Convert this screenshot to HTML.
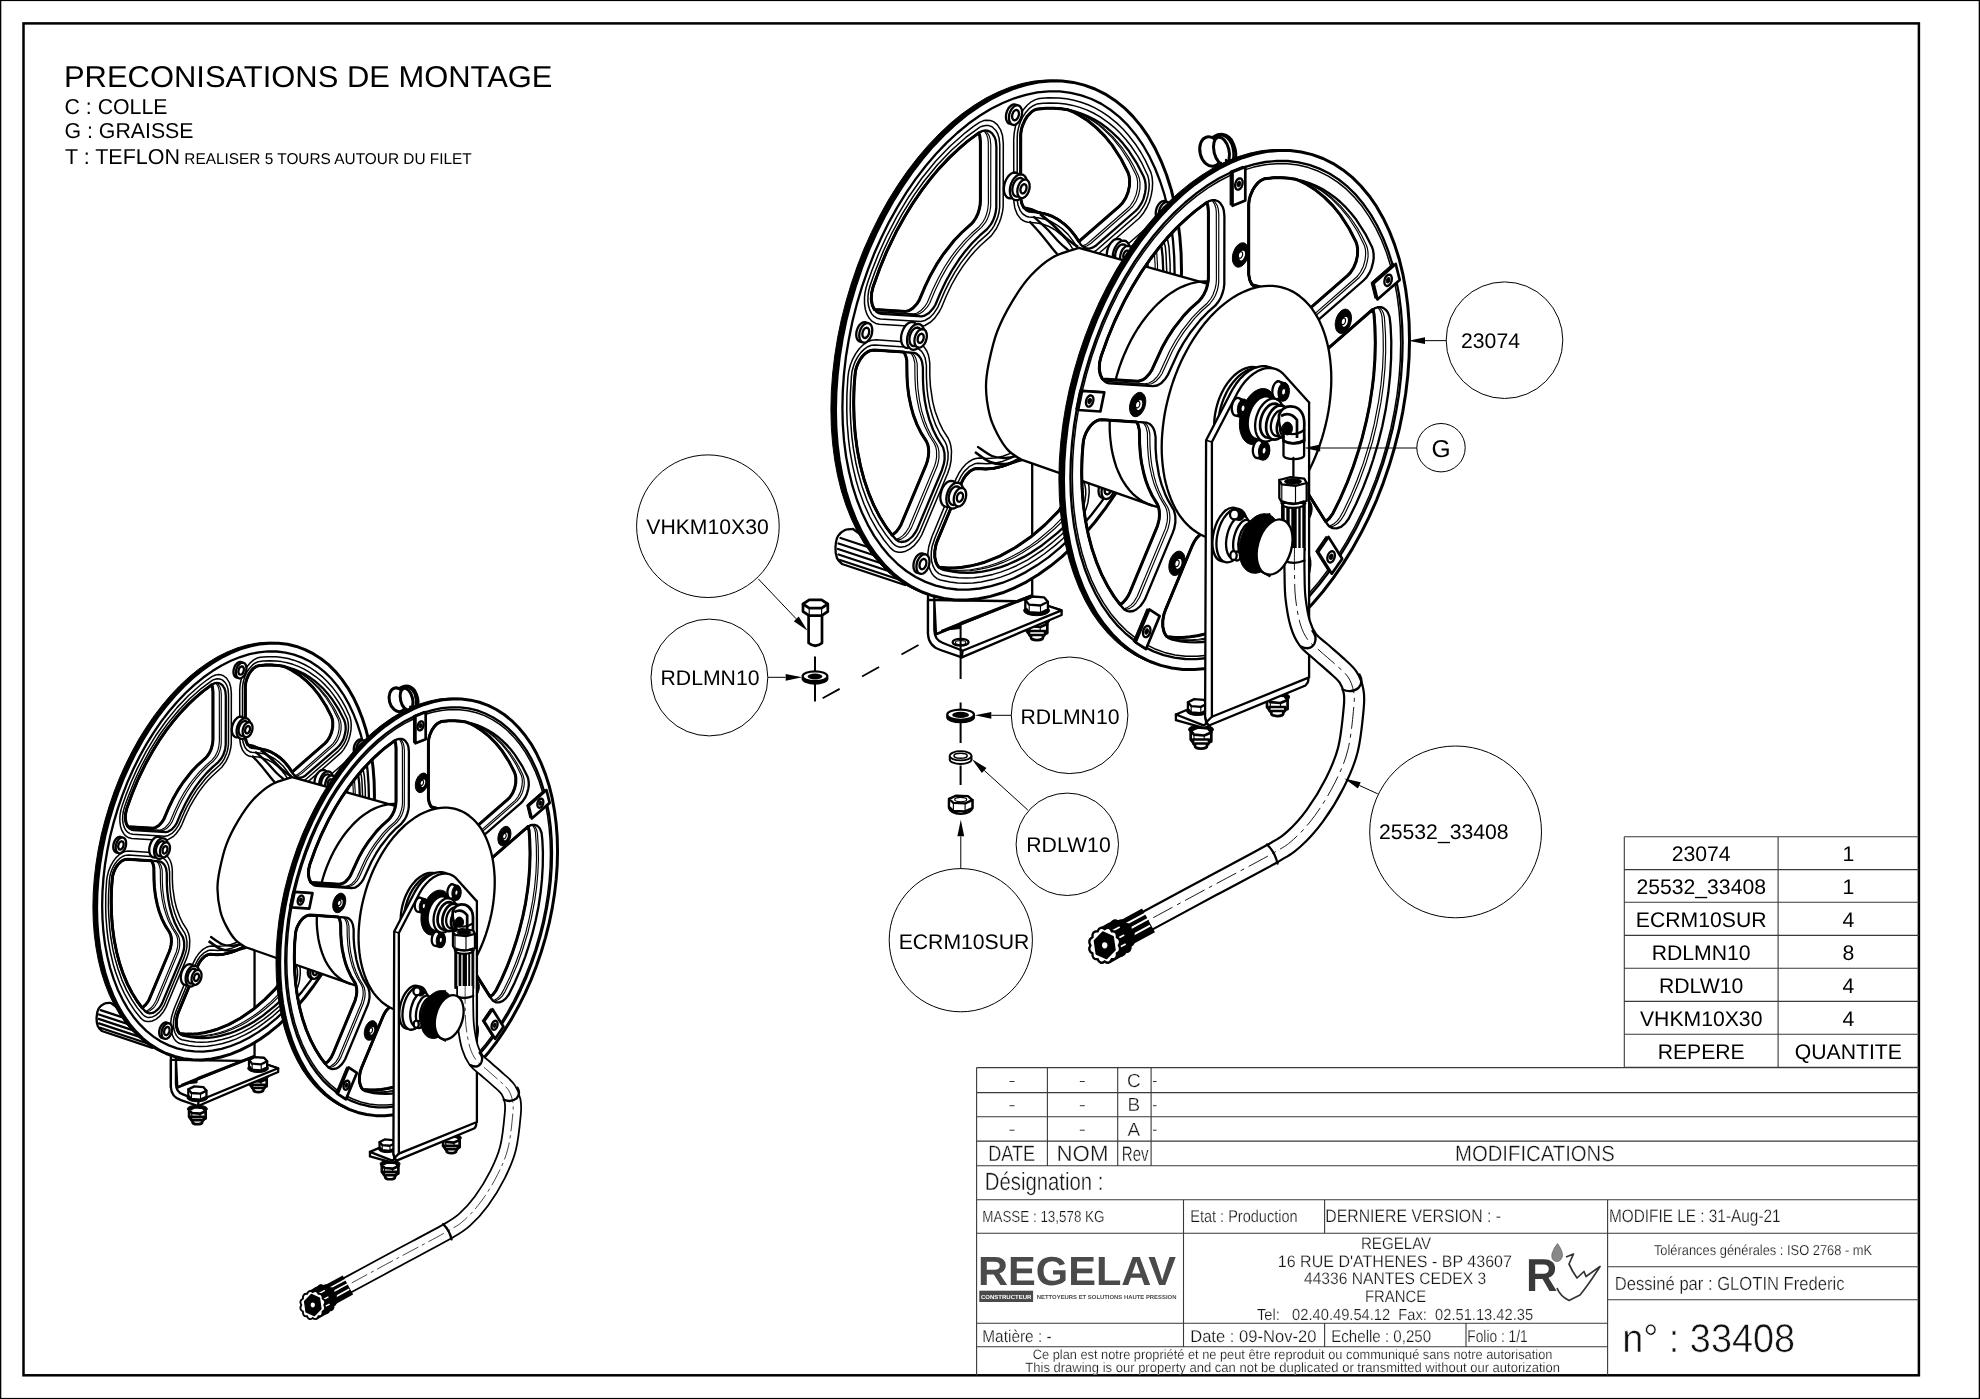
<!DOCTYPE html><html><head><meta charset="utf-8"><title>33408</title><style>
html,body{margin:0;padding:0;background:#fff}
body{width:1980px;height:1399px;overflow:hidden;font-family:"Liberation Sans",sans-serif}
svg{position:absolute;left:0;top:0;display:block;will-change:transform}
text{text-rendering:geometricPrecision}
.k{fill:none;stroke:#000;stroke-width:2.3;stroke-linejoin:round;stroke-linecap:round;vector-effect:non-scaling-stroke}
.t{fill:none;stroke:#000;stroke-width:1.15;stroke-linejoin:round;stroke-linecap:round;vector-effect:non-scaling-stroke}
.t2{fill:none;stroke:#000;stroke-width:1.5;stroke-linejoin:round;vector-effect:non-scaling-stroke}
.h{fill:none;stroke:#000;stroke-width:3;stroke-linejoin:round;vector-effect:non-scaling-stroke}
.h2{fill:none;stroke:#000;stroke-width:2.7;stroke-linejoin:round;vector-effect:non-scaling-stroke}
.w{fill:#fff}
.bk{fill:#000;stroke:#000;stroke-width:1;vector-effect:non-scaling-stroke}
.cl{fill:none;stroke:#000;stroke-width:1;stroke-dasharray:14 4 3 4;vector-effect:non-scaling-stroke}
.bal{fill:#fff;stroke:#000;stroke-width:1}
.ld{fill:none;stroke:#000;stroke-width:1}
.ar{fill:#000;stroke:none}
.bt{font-family:"Liberation Sans",sans-serif;font-size:21.2px;fill:#000;text-anchor:middle}
.tb{fill:none;stroke:#3a3a3a;stroke-width:1.1}
.tf{font-family:"Liberation Sans",sans-serif;stroke:#fff}
.nt{font-family:"Liberation Sans",sans-serif;fill:#000}
</style></head><body><svg width="1980" height="1399" viewBox="0 0 1980 1399"><rect x="0.6" y="0.4" width="1978.8" height="1398.2" fill="none" stroke="#000" stroke-width="1.4"/>
<rect x="23.5" y="23.4" width="1895.4" height="1351.9" fill="none" stroke="#000" stroke-width="2.5"/>
<defs><g id="fl"><path class="bk" fill-rule="evenodd" d="M1176.9,269.5L1176.5,252.2 1175.2,235.3 1173.1,219 1170.2,203.3 1166.5,188.2 1161.9,173.8 1156.6,160.3 1150.6,147.6 1143.9,135.9 1136.4,125.1 1128.3,115.4 1119.7,106.8 1110.4,99.4 1100.6,93.1 1090.4,88 1079.7,84.1 1068.7,81.4 1057.4,80.1 1045.8,80 1033.9,81.1 1022,83.5 1009.9,87.2 997.9,92.1 985.8,98.1 973.9,105.4 962,113.8 950.4,123.3 939.1,133.9 928.1,145.4 917.4,158 907.2,171.3 897.4,185.6 888.1,200.5 879.5,216.1 871.4,232.4 863.9,249.1 857.2,266.3 851.2,283.9 845.9,301.7 841.3,319.7 837.6,337.8 834.7,356 832.6,374 831.3,391.9 830.9,409.5 831.3,426.7 832.6,443.6 834.7,459.9 837.6,475.7 841.3,490.7 845.9,505.1 851.2,518.6 857.2,531.3 863.9,543 871.4,553.8 879.5,563.5 888.1,572.1 897.4,579.6 907.2,585.9 917.4,591 928.1,594.8 939.1,597.5 950.4,598.9 962,599 973.9,597.8 985.8,595.4 997.9,591.8 1009.9,586.9 1022,580.8 1033.9,573.5 1045.8,565.1 1057.4,555.6 1068.7,545 1079.7,533.5 1090.4,521 1100.6,507.6 1110.4,493.4 1119.7,478.4 1128.3,462.8 1136.4,446.5 1143.9,429.8 1150.6,412.6 1156.6,395 1161.9,377.2 1166.5,359.2 1170.2,341.1 1173.1,323 1175.2,304.9 1176.5,287.1ZM1181.5,270.5L1181.1,253.2 1179.8,236.3 1177.7,220 1174.8,204.3 1171.1,189.2 1166.5,174.8 1161.2,161.3 1155.2,148.6 1148.5,136.9 1141,126.1 1132.9,116.4 1124.3,107.8 1115,100.4 1105.2,94.1 1095,89 1084.3,85.1 1073.3,82.4 1062,81.1 1050.4,81 1038.5,82.1 1026.6,84.5 1014.5,88.2 1002.5,93.1 990.4,99.1 978.5,106.4 966.6,114.8 955,124.3 943.7,134.9 932.7,146.4 922,159 911.8,172.3 902,186.6 892.7,201.5 884.1,217.1 876,233.4 868.5,250.1 861.8,267.3 855.8,284.9 850.5,302.7 845.9,320.7 842.2,338.8 839.3,357 837.2,375 835.9,392.9 835.5,410.5 835.9,427.7 837.2,444.6 839.3,460.9 842.2,476.7 845.9,491.7 850.5,506.1 855.8,519.6 861.8,532.3 868.5,544 876,554.8 884.1,564.5 892.7,573.1 902,580.6 911.8,586.9 922,592 932.7,595.8 943.7,598.5 955,599.9 966.6,600 978.5,598.8 990.4,596.4 1002.5,592.8 1014.5,587.9 1026.6,581.8 1038.5,574.5 1050.4,566.1 1062,556.6 1073.3,546 1084.3,534.5 1095,522 1105.2,508.6 1115,494.4 1124.3,479.4 1132.9,463.8 1141,447.5 1148.5,430.8 1155.2,413.6 1161.2,396 1166.5,378.2 1171.1,360.2 1174.8,342.1 1177.7,324 1179.8,305.9 1181.1,288.1Z"/><path class="h w" fill-rule="evenodd" d="M1181.5,270.5L1181.1,253.2 1179.8,236.3 1177.7,220 1174.8,204.3 1171.1,189.2 1166.5,174.8 1161.2,161.3 1155.2,148.6 1148.5,136.9 1141,126.1 1132.9,116.4 1124.3,107.8 1115,100.4 1105.2,94.1 1095,89 1084.3,85.1 1073.3,82.4 1062,81.1 1050.4,81 1038.5,82.1 1026.6,84.5 1014.5,88.2 1002.5,93.1 990.4,99.1 978.5,106.4 966.6,114.8 955,124.3 943.7,134.9 932.7,146.4 922,159 911.8,172.3 902,186.6 892.7,201.5 884.1,217.1 876,233.4 868.5,250.1 861.8,267.3 855.8,284.9 850.5,302.7 845.9,320.7 842.2,338.8 839.3,357 837.2,375 835.9,392.9 835.5,410.5 835.9,427.7 837.2,444.6 839.3,460.9 842.2,476.7 845.9,491.7 850.5,506.1 855.8,519.6 861.8,532.3 868.5,544 876,554.8 884.1,564.5 892.7,573.1 902,580.6 911.8,586.9 922,592 932.7,595.8 943.7,598.5 955,599.9 966.6,600 978.5,598.8 990.4,596.4 1002.5,592.8 1014.5,587.9 1026.6,581.8 1038.5,574.5 1050.4,566.1 1062,556.6 1073.3,546 1084.3,534.5 1095,522 1105.2,508.6 1115,494.4 1124.3,479.4 1132.9,463.8 1141,447.5 1148.5,430.8 1155.2,413.6 1161.2,396 1166.5,378.2 1171.1,360.2 1174.8,342.1 1177.7,324 1179.8,305.9 1181.1,288.1ZM874,350.1L871.1,350.4 868.2,351.5 865.4,353.4 862.7,356 860.3,359.2 858.2,363 856.5,367.1 855.4,371.4 854.1,386.2 853.7,402.8 854.1,419.1 855.3,435 857.4,450.4 860.3,465.1 864,479.2 868.5,492.6 873.7,505.1 879.7,516.7 886.3,527.3 892.2,535.2 896.4,531.6 898.8,528.4 901,524.7 925.9,465.3 927.4,461 928.3,456.6 928.7,452.2 928.5,448.1 927.7,444.3 926.3,441.1 921.2,433.1 916.9,424.4 913.4,415.1 911.2,407.2 908.9,396.4 907.5,385.2 907,376.1 906.8,360.5 906,356.7 904.7,353.5 903.9,352.1ZM1041,442.2L1031.4,450.4 1025.3,455 1018.9,459.1 1010.5,463.4 1002.1,466.4 993.8,468.3 985.7,469 977.1,468.4 974.2,468.9 969.8,471.3 965.8,475.4 963.4,478.9 961.5,482.8 937.5,540.3 936,544.5 934.8,551 934.8,557.2 936.1,562.6 937.6,565.5 939,567.2 947.4,567.9 954.7,567.9 962.1,567.3 969.6,566.1 977.1,564.4 984.7,562.2 999.9,556.1 1015,547.8 1030.3,537.3 1044.8,525 1059.1,510.6 1062.4,505.3 1064.2,501.3 1065.4,497 1066.3,490.5 1066.2,486.4 1065.5,482.6 1063.5,477.9ZM1144.7,240L1102.8,276.6 1100.3,279.7 1098.1,283.3 1096.3,287.4 1095,291.7 1094.1,298.2 1094,311.8 1093.5,321.4 1092.1,333.6 1090.4,343.4 1087.6,355.9 1084,368.4 1079.8,380.3 1073.9,394.5 1072.9,398.9 1072.3,405.5 1073.1,411.4 1074.3,414.8 1097.6,451.9 1101.2,448.9 1104.8,444.1 1112.1,429.3 1119.2,412.9 1125.2,397.1 1130.7,380.5 1134.1,368.7 1138.3,351.7 1141.7,335.1 1144.3,318.1 1145.7,306.2 1146.9,289.8 1147.3,273.2 1146.9,256.9 1146,244.5 1145.1,240.9ZM1067.9,109.8L1060.8,108.7 1053.3,108.2 1045.9,108.2 1036.6,109.2 1033.7,110.4 1030.9,112.4 1027.1,116.6 1024.9,120.1 1022.3,126.2 1021.2,130.4 1020.7,134.7 1020.7,197.9 1021.8,203.6 1023.8,207.7 1031.1,209.5 1038.1,212.4 1047.1,214.4 1052.6,216.5 1057.7,219.3 1064.4,224.1 1069.1,228.5 1074.6,235.1 1078.9,241.5 1119.5,206.1 1122.2,203.3 1125.6,198.2 1128.1,192.1 1129.5,185.7 1129.6,179.4 1129,175.6 1127.9,172.2 1121.1,159 1112.3,145.4 1104.8,136.1 1096.3,127.6 1087.6,120.5 1078.4,114.7 1072.3,111.5ZM978.8,132.9L967.4,141.4 959.8,147.8 949.1,157.9 939,168.6 932,176.9 922.3,189.4 913.1,202.8 904.7,216.5 896.2,231.8 886.5,251.9 879.7,268.5 873.1,286.7 871.6,293.2 871.3,299.5 872.3,305.1 874.4,309.5 905.7,311.4 908.7,310.7 913,308.1 917,303.7 919.3,300.1 925,286.6 930.5,275.2 936.6,264.4 943.1,254.5 954.1,240.5 961.8,232.5 971.1,224.2 973.7,221.2 976,217.7 977.9,213.7 979.2,209.4 980.1,205.1 980.4,200.8 980.4,141.7 979.8,135.9Z"/><path class="k" d="M1174.6,273.3L1174.2,256.7 1173,240.5 1171,224.8 1168.1,209.7 1164.6,195.2 1160.2,181.5 1155.1,168.5 1149.3,156.3 1142.9,145 1135.7,134.7 1128,125.4 1119.6,117.1 1110.7,110 1101.4,103.9 1091.5,99 1081.3,95.3 1070.7,92.8 1059.8,91.4 1048.7,91.3 1037.3,92.4 1025.9,94.8 1014.3,98.3 1002.7,103 991.1,108.8 979.7,115.8 968.3,123.8 957.2,133 946.3,143.1 935.7,154.2 925.5,166.2 915.6,179.1 906.3,192.7 897.4,207.1 889,222.1 881.3,237.7 874.1,253.8 867.7,270.3 861.9,287.1 856.8,304.2 852.4,321.5 848.9,338.9 846,356.3 844,373.6 842.8,390.8 842.4,407.7 842.8,424.2 844,440.4 846,456.1 848.9,471.2 852.4,485.7 856.8,499.5 861.9,512.5 867.7,524.6 874.1,535.9 881.3,546.2 889,555.5 897.4,563.8 906.3,571 915.6,577 925.5,581.9 935.7,585.6 946.3,588.2 957.2,589.5 968.3,589.6 979.7,588.5 991.1,586.2 1002.7,582.7 1014.3,578 1025.9,572.1 1037.3,565.1 1048.7,557.1 1059.8,547.9 1070.7,537.8 1081.3,526.7 1091.5,514.7 1101.4,501.9 1110.7,488.2 1119.6,473.8 1128,458.8 1135.7,443.3 1142.9,427.2 1149.3,410.7 1155.1,393.8 1160.2,376.7 1164.6,359.4 1168.1,342 1171,324.6 1173,307.3 1174.2,290.2Z"/><path class="t2" d="M851.4,376.6L852,371.5 853.4,366.2 855.4,361.1 858,356.4 861,352.4 864.3,349.1 867.8,346.7 871.4,345.3 875,344.9 915.7,347.7 918.8,349.1 921.6,351.4 923.7,354.7 925.2,358.3 926.4,365.5 926.4,376.7 927,388.1 927.9,396.3 929.8,406.7 932.6,416.5 936,425.7 940.1,434 945.3,442.2 946.8,445.8 948.1,453 948,458.8 947.1,464.2 944.8,471.7 919.7,531.7 917.1,536.2 913.8,540.5 909,544.6 905.1,546.5 900.2,547.2 898.2,546.8 895.5,545.6 892.7,543.2 886,534.9 879,524.4 872.6,512.8 867,500.3 862.2,486.9 858.3,473.3 855.9,463 853.3,448.2 851.9,437.1 850.7,421.5 850.2,409.8 850.4,393.5Z"/><path class="t2" d="M941.8,574.9L938.9,573.6 936.2,571.3 934.8,569.5 933,565.9 931.7,561.5 931.2,556.6 931.3,551.9 932.1,546.6 934.7,538.5 958.7,481 961.2,475.9 964.1,471.6 969.2,466.7 974.6,463.8 977.8,463.2 986.6,463.8 994.4,463.2 1002.4,461.4 1010.6,458.3 1016.6,455.3 1024.5,450.5 1030.5,446 1039.2,438.4 1044.3,435.6 1047.8,434.8 1049.9,434.9 1052.9,435.7 1055.8,437.6 1058.3,440.7 1082.3,478.7 1084.9,484.8 1085.6,489 1085.8,494.1 1084.6,502.6 1083.2,507.3 1081.1,512.3 1076.6,519.2 1069.2,527.1 1061.6,534.5 1050.9,543.7 1043.4,549.5 1027.7,559.8 1016.5,565.7 1008.7,569.1 1000.6,572.1 992.8,574.4 981.7,576.8 974,577.7 966.1,578 958.6,577.7 951.3,576.9Z"/><path class="t2" d="M1072.3,420.3L1070.4,416.3 1069.3,411.8 1068.9,406.7 1069.5,399.2 1071.7,391.1 1076.9,378.7 1081,367 1083.7,358.1 1086.5,346.2 1088.7,334.1 1090,322.1 1090.8,296.4 1092.4,288.8 1094.5,283.1 1098.2,276.6 1101.6,272.4 1143.5,235.7 1147.1,233.6 1150.6,232.5 1154.1,232.5 1157.3,233.5 1159,234.6 1161.3,236.9 1163.6,240.7 1165.3,246.8 1166,254 1166.7,270.6 1166.6,287.4 1165.6,304.6 1163.8,322 1162,334.2 1158.9,351.1 1156.1,363.4 1151.7,380.1 1148,392.1 1142.3,408.5 1137.8,420.1 1131,435.8 1123.2,451.6 1118.4,457.9 1115.1,460.9 1111.5,463 1108,464.1 1103.2,463.8 1099.9,462.2 1096.4,458.5Z"/><path class="t2" d="M1017.2,138.2L1017.5,132.7 1018.6,127.4 1020.3,122.3 1022.5,117.4 1025.3,113.1 1029.7,108.1 1033.2,105.7 1036.7,104.1 1043,103.3 1050.9,102.9 1058.3,103.2 1065.6,104 1072.8,105.4 1079.8,107.4 1086.7,109.9 1093.4,113 1099.8,116.7 1108.7,122.9 1114.7,127.8 1120.3,133.3 1125.9,139.5 1131,146 1137.8,156.2 1142.1,163.7 1147.8,175.7 1148.8,180.2 1149.2,184.6 1148.9,189.8 1147.9,195.2 1146.2,200.9 1144,205.7 1140,211.7 1136.8,215.1 1096.2,250.5 1092.6,252.6 1088.9,253.7 1085.4,253.7 1082.2,252.5 1080.4,251.4 1078.1,248.9 1073.2,241.1 1068,234.4 1062.2,228.9 1057.5,225.3 1050.8,221.5 1043.7,218.9 1038,217.7 1028.9,217 1026.9,216.6 1022.8,214 1020.2,210.6 1018,204.9 1017.2,199.6Z"/><path class="t2" d="M880.4,319L877,318.2 874.1,316.4 871.6,313.7 869.8,310.1 868.5,305.8 867.9,301 868,295.9 868.7,290.6 870.1,285.5 874.7,272.5 883.6,250.5 891.4,234 902.1,214.2 914,195.1 924,181.2 937.5,164.8 951.4,150.3 966.1,137.2 979.9,127.1 982.1,126.2 985.6,125.4 988.9,125.6 992,126.8 995.7,130.2 997.7,133.6 999.1,138.2 999.8,145 999.7,207.1 999,212.5 997.7,217.4 994.3,225.4 991.8,229.3 988.6,233.1 979,241.6 971.6,249.3 961.1,262.6 954.9,272.2 949,282.6 944.9,290.9 937.6,307.7 933.5,313.8 929.9,317.5 924.8,320.5 920.8,321.5Z"/><path class="t2" d="M847.9,377.4L848.7,371.6 850.3,365.2 852.7,359.1 855.7,353.6 859.2,348.7 863.2,344.8 867.3,341.9 871.6,340.2 876.1,339.8 917.3,342.7 921,344.3 924.2,347.1 926.8,351 928.4,355.1 929.2,358.6 929.8,363.5 929.8,375.2 930.4,386.1 932.7,401.6 935.1,411.2 939.1,422.1 943,430.1 948.3,438.5 950,442.5 950.9,446.1 951.5,451 951.1,460.5 949.8,467 947.7,473.3 921.9,534.6 918.8,540 913.8,545.9 909.7,549.2 904.8,551.6 901.3,552.3 898.6,552.3 895.4,551.5 893.6,550.6 890.1,547.6 883.6,539.5 876.4,528.7 869.9,517 864.1,504.2 859.1,490.6 856.1,480.5 852.6,465.6 849.9,450.6 848.5,439.1 847.2,423.3 846.8,411.2 846.9,394.6Z"/><path class="t2" d="M940.3,580L937,578.6 933.7,575.9 931.9,573.5 929.8,569.1 928.4,563.9 927.8,559 927.9,552.9 928.8,546.5 931.9,536.7 955.9,479.2 959,473 962.5,467.9 965.8,464.3 968.5,462 972.1,459.8 974.9,458.7 978.5,458.1 987.5,458.6 995,458 1002.8,456.2 1010.5,453.4 1018.1,449.5 1023.8,445.8 1029.5,441.6 1038.5,433.8 1044.2,430.6 1048.5,429.6 1051.2,429.7 1054.5,430.7 1056.9,432 1059.5,434.5 1061.1,436.6 1085.1,474.6 1087.1,478.7 1088.2,482 1089,486.7 1089.2,492.7 1088,502.2 1086.2,508.5 1084.7,512.5 1082.2,517.3 1078.8,522.3 1070.6,531.1 1062.8,538.7 1055.2,545.4 1044.2,554 1036,559.7 1028,564.6 1020.1,568.9 1008.8,574.1 1000.7,577.1 992.4,579.6 981.1,581.9 973.2,582.9 965.2,583.2 957.5,582.9 950,582.1Z"/><path class="t2" d="M1069.5,424.4L1067.2,419.5 1065.9,414 1065.4,408 1066.1,399.4 1068.7,389.8 1074,377.1 1077.9,366.1 1082.6,348.7 1084.9,337.1 1086.4,325.6 1087.1,314.3 1087.5,296.7 1089.2,288.1 1091.9,280.9 1096,273.5 1100.4,268.2 1142.6,231.2 1146.8,228.7 1151.1,227.4 1155.2,227.3 1159,228.5 1162.9,231.4 1165.6,235 1167.6,239.6 1169,247 1170.1,263.9 1170.2,281 1169.5,298.5 1167.8,316.3 1165.5,333.4 1163.2,346 1159.5,363.1 1156.3,375.7 1151.3,392.5 1147.1,404.9 1140.6,421.8 1133.7,437.8 1125.6,454.2 1123.4,457.6 1119.7,462.1 1115.7,465.6 1111.5,468 1107.3,469.3 1103.2,469.3 1100,468.3 1098.2,467.3 1094.6,464Z"/><path class="t2" d="M1013.7,139.6L1014.2,132.9 1015.4,126.6 1017.5,120.4 1020.2,114.7 1023.5,109.5 1027.2,105.2 1031.2,101.8 1035.4,99.6 1039.3,98.5 1048.1,97.8 1059,98 1066.5,98.8 1073.9,100.2 1081.1,102.2 1088.1,104.8 1094.9,107.9 1101.8,111.8 1108.2,116.1 1116.9,123.1 1123,129 1128.5,135.2 1135.9,144.8 1140.9,152.5 1145.3,160.4 1151,172.6 1152.1,177.1 1152.6,182.9 1152.3,189.1 1151.2,195.4 1149.4,201.7 1146.8,207.5 1143.1,213.6 1139.4,218 1097.1,255 1092.8,257.5 1088.5,258.8 1084.3,258.8 1080.4,257.5 1078.1,256 1075.5,253.3 1070.5,245.3 1065.5,238.9 1061.3,234.8 1055.4,230.1 1049,226.5 1042.2,224 1036.8,222.9 1027.8,222.2 1025.2,221.6 1022.2,220 1020.5,218.6 1017.3,214.4 1014.8,207.9 1013.8,201.2Z"/><path class="t2" d="M879.3,324.2L875.7,323.4 872.2,321.4 869.3,318.3 866.9,314.2 865.3,309.2 864.5,303.6 864.5,297.5 864.9,293.3 866,288 867.9,281.8 872,270.3 878.4,254.2 886.2,237 897.1,216.1 908.8,196.7 921.8,178.2 935.6,161.3 950,146.2 965.2,132.8 973.2,126.6 979.5,122.4 983.7,120.6 986.4,120.2 990.4,120.5 993.5,121.6 997.3,124.6 1000.6,129.8 1002.5,135.6 1003.3,143.3 1003.2,206.5 1002.5,211.9 1000.9,218.3 999.4,222.3 996.6,228.2 991.4,235.6 980.2,245.8 974.9,251.2 969.7,257.2 963.1,265.9 957.1,275.2 951.5,285 946.5,295.5 941.5,307.5 938.9,312.3 934.7,318.1 930.7,322 924.9,325.5 919.9,326.7Z"/><path class="t" d="M874,350.1L871.1,350.4 868.2,351.5 865.4,353.4 862.7,356 860.3,359.2 858.2,363 856.5,367.1 855.4,371.4 854.1,386.2 853.7,403.4 854.1,419.7 855.9,440.2 858.3,455.4 861.4,469.9 865.4,483.8 870.3,497.2 875.8,509.4 882,520.7 891.1,533.9 895.2,538.8 897,540.3 901.3,539.1 905.5,536.1 908.1,533.2 911.4,527.9 937.1,466.3 938.3,462 939,457.6 938.9,451.2 938.1,447.5 936.7,444.2 931.6,436.2 927.3,427.5 924.6,420.5 921.6,410.6 919.4,399.8 917.9,388.4 917.4,379.3 917.2,363.7 915.8,358.2 914.3,355.3 911.7,352.6Z"/><path class="t" d="M874,350.1L871.1,350.4 868.2,351.5 865.4,353.4 862.7,356 860.3,359.2 858.2,363 856.5,367.1 855.4,371.4 854.1,386.2 853.7,402.8 854.1,419.1 855.4,435.5 857.5,450.8 860.4,465.6 864.1,479.7 868.6,493 873.9,505.4 879.9,517 886.5,527.7 891.4,534.2 895.8,539.4 898.9,538.4 903.1,535.4 905.7,532.5 909,527.2 934.7,465.6 935.9,461.3 936.6,456.8 936.5,450.5 935.7,446.7 934.3,443.5 929.2,435.5 924.9,426.8 922.2,419.7 919.2,409.9 917,399.1 915.5,387.7 915,378.6 914.8,363 913.4,357.5 911.9,354.5 910.1,352.5Z"/><path class="t" d="M1047.1,440L1042.8,441.2 1039.9,443 1031.3,450.6 1023.2,456.4 1017,460.2 1010.7,463.3 1002.3,466.4 993.9,468.3 987.6,468.9 977.1,468.4 974.2,468.9 969.8,471.3 965.8,475.4 963.4,478.9 961.5,482.8 937.5,540.3 936,544.5 934.8,551 934.8,557.2 935.6,560.9 936.8,564.2 939.6,567.8 941.2,568.9 950.9,570.5 961.4,571.1 969.2,570.8 976.6,569.9 987.5,567.6 995.1,565.4 1003.1,562.4 1014.1,557.4 1021.7,553.3 1037,543.2 1044.4,537.5 1054.9,528.5 1062.3,521.3 1069.5,513.7 1071.8,510.4 1073.8,506.5 1075.3,502.3 1076.3,498 1076.7,491.6 1076.3,487.6 1075.4,484.1 1073.9,481.1 1049.9,443Z"/><path class="t" d="M1045.7,440.2L1042.8,441.2 1039.9,443 1031.3,450.6 1023.2,456.4 1017,460.2 1010.7,463.3 1002.3,466.4 993.9,468.3 987.6,468.9 977.1,468.4 974.2,468.9 969.8,471.3 965.8,475.4 963.4,478.9 961.5,482.8 937.5,540.3 936,544.5 934.8,551 934.8,557.2 935.6,560.9 936.8,564.2 939.6,567.8 941.4,568.7 952.1,570.1 962.7,570.3 970.5,569.7 981.4,567.8 988.9,565.8 996.5,563.3 1004.1,560.2 1011.7,556.6 1019.6,552.3 1030.5,545.4 1037.9,540 1052.8,527.4 1067.1,513 1070.4,507.7 1072.2,503.7 1073.4,499.5 1074.3,493 1074.2,488.9 1073.5,485.1 1071.5,480.3 1047.5,442.3Z"/><path class="t" d="M1151.2,237.6L1145.9,239.2 1143,241.3 1102.8,276.6 1100.3,279.7 1098.1,283.3 1096.3,287.4 1095,291.7 1094.1,298.2 1094,311.8 1093.5,321.4 1092.1,333.6 1090.4,343.4 1087.6,355.9 1084,368.4 1079.8,380.3 1073.9,394.5 1072.9,398.9 1072.3,405.5 1073.1,411.4 1075.1,416.2 1099.1,454.3 1101.9,457.3 1104.5,456.8 1107.4,455.5 1110.2,453.4 1112.8,450.6 1116.2,445.4 1122.7,432 1131.5,411.2 1137.7,394.3 1144.4,372.4 1148.7,354.9 1153,332.6 1155.4,315.5 1157,298.1 1157.7,281.4 1157.5,264.9 1156.4,247.7 1155.5,244.1 1154.1,241Z"/><path class="t" d="M1149.8,237.8L1145.9,239.2 1143,241.3 1102.8,276.6 1100.3,279.7 1098.1,283.3 1096.3,287.4 1095,291.7 1094.1,298.2 1094,311.8 1093.5,321.4 1092.1,333.6 1090.4,343.4 1087.6,355.9 1084,368.4 1079.8,380.3 1073.9,394.5 1072.9,398.9 1072.3,405.5 1073.1,411.4 1075.1,416.2 1099.1,454.3 1100.9,456.4 1103.6,455.6 1106.4,453.8 1109.2,451.4 1111.6,448.3 1115.3,441.6 1122.5,426.5 1129.1,410.5 1135.3,393.5 1142,371.7 1146.3,354.1 1150.6,331.9 1153,314.8 1154.6,297.9 1155.3,281.1 1155.1,264.2 1154,247 1153.1,243.3 1151.7,240.2Z"/><path class="t" d="M1071.4,110.6L1064.1,109.1 1053.6,108.2 1045.9,108.2 1038,108.9 1035.2,109.7 1032.3,111.3 1028.3,115 1025.9,118.3 1023.9,122.1 1022.3,126.2 1021.2,130.4 1020.7,134.7 1020.7,197.9 1021.3,201.9 1022.4,205.3 1024.1,208.1 1026.2,210.2 1033.6,210.8 1039.6,212.1 1050.6,215.7 1057.9,219.4 1064.4,224.1 1069.1,228.5 1074.8,235.2 1080.7,244.5 1082.8,246.7 1083.8,246.9 1086.8,246 1091.1,243.2 1129.9,209.2 1132.6,206.5 1136,201.4 1138.5,195.3 1139.9,188.9 1140,182.6 1139.4,178.8 1138.3,175.4 1133.8,166.3 1129.6,158.9 1122.5,148.2 1112.5,136.4 1103.9,128.3 1098.3,123.9 1092.2,119.8 1082.3,114.6 1075.7,111.8Z"/><path class="t" d="M1071.4,110.6L1064.1,109.1 1053.6,108.2 1045.9,108.2 1038,108.9 1035.2,109.7 1032.3,111.3 1028.3,115 1025.9,118.3 1023.9,122.1 1022.3,126.2 1021.2,130.4 1020.7,134.7 1020.7,197.9 1021.3,201.9 1022.4,205.3 1024.1,208.1 1025.4,209.5 1035.1,210.8 1048.8,215 1056.2,218.4 1062.9,222.9 1067.6,227 1072,231.8 1076,236.9 1080.7,244.5 1082,246 1085.8,244.6 1088.7,242.5 1127.5,208.5 1130.2,205.8 1133.6,200.6 1136.1,194.6 1137.5,188.1 1137.6,181.9 1137,178 1135.9,174.7 1129.1,161.4 1120.3,147.8 1112.5,138.2 1104.3,130 1098.9,125.4 1092.9,121.1 1083.2,115.4 1076.7,112.4Z"/><path class="t" d="M985.2,130.5L981.8,131.2 979,132.8 967,141.7 956.2,151.1 942.5,164.8 932.3,176.5 922.6,189 913.4,202.4 904.7,216.5 896.2,231.8 886.5,251.9 879.7,268.5 872.5,288.9 871.4,295.3 871.3,299.5 871.9,303.3 873.6,308.3 875.4,310.8 877,312.2 916.1,314.6 919.1,313.9 923.4,311.2 927.4,306.9 929.7,303.3 935.4,289.8 940.9,278.4 947,267.6 953.5,257.6 959,250.3 966.2,241.8 974,234 981.5,227.4 985.3,222.7 987.4,218.9 989,214.8 990.1,210.4 990.7,206.1 990.8,144.9 990.2,139 989.1,135.6 986.5,131.7Z"/><path class="t" d="M983.9,130.7L980.4,131.9 978.1,133.4 963.7,144.4 952.6,154.4 942.1,165.2 932,176.9 922.3,189.4 913.1,202.8 904.7,216.5 896.2,231.8 886.5,251.9 879.7,268.5 873.1,286.7 872,291 871.4,295.3 871.5,301.4 872.9,306.8 874.5,309.6 876.2,311.6 913.7,313.9 916.7,313.2 921,310.5 925,306.2 927.3,302.5 933,289.1 938.5,277.7 944.6,266.8 951.1,256.9 956.6,249.6 963.8,241.1 971.6,233.3 979.1,226.7 982.9,222 985,218.2 986.6,214 987.7,209.7 988.4,203.2 988.3,142.1 987.8,138.3 986.7,134.9 985.1,132.1Z"/><path class="k" d="M854.8,375.7L855.4,371.4 856.5,367.1 858.2,363 860.3,359.2 862.7,356 865.4,353.4 868.2,351.5 871.1,350.4 874,350.1 914.2,352.8 916.7,353.9 918.9,355.8 920.7,358.4 922,361.6 922.9,367.4 923,381 923.5,390.1 924.9,401.3 926.6,409.7 929.4,419.9 933,429.5 937.2,437.9 943.1,447.5 944.5,453 944.6,459.3 943.9,463.7 941.9,470.2 917,529.6 914.8,533.3 912.4,536.5 908.3,540 905.4,541.4 901.2,542 898.6,541.3 896.2,539.8 891.1,533.9 884.2,524.2 879.7,516.7 873.7,505.1 868.5,492.6 864.1,479.7 861.4,469.9 858.4,455.8 856.6,445.3 854.9,430.3 854.1,419.1 853.7,403.4 853.9,391.8Z"/><path class="k" d="M943.2,569.8L940.7,568.7 938.6,566.8 936.8,564.2 935.6,560.9 934.8,557.2 934.7,553.1 935.5,546.6 937.5,540.3 961.5,482.8 963.4,478.9 967.1,473.8 971.3,470.3 975.7,468.6 985.6,469 991.7,468.6 998.1,467.5 1006.3,465.1 1014.7,461.4 1023.1,456.5 1029.4,452 1039.9,443 1042.8,441.2 1045.7,440.2 1048.6,440 1051.2,440.8 1053.6,442.4 1055.5,444.7 1079.5,482.8 1081.5,487.5 1082.2,491.3 1082.3,495.4 1081.9,499.7 1080.9,504 1078.4,510.2 1076.3,513.8 1073.8,516.9 1064.4,526.5 1057.2,533.1 1042.2,545.2 1031.4,552.5 1023.9,556.9 1015.9,560.9 1008.3,564.3 1000.7,567.1 989.7,570.2 982.2,571.6 974.8,572.5 967.4,572.8 959.8,572.6 952.6,571.7Z"/><path class="k" d="M1075.1,416.2L1073.1,411.4 1072.4,407.5 1072.4,403.3 1072.9,398.9 1074.7,392.4 1079.8,380.3 1084,368.4 1086.8,358.8 1089.8,346.5 1092,333.9 1093.5,321.4 1094,311.8 1094.2,296.1 1095,291.7 1097.1,285.3 1100.3,279.7 1102.8,276.6 1143,241.3 1145.9,239.2 1150.2,237.7 1153,237.7 1155.6,238.5 1158.8,241.4 1160.5,244.1 1161.6,247.5 1162.6,256.4 1163.3,272.1 1163.2,288.6 1162.2,305.4 1160.4,322.4 1157.8,339.5 1155.5,351.4 1151.5,368.5 1146.7,385.4 1141.4,401.5 1137.1,412.9 1130.5,429 1121.8,447.1 1118.4,452.3 1114.4,456.3 1110.1,458.6 1107.3,459 1104.6,458.7 1101,456.6 1099.1,454.3Z"/><path class="k" d="M1020.6,136.8L1020.9,132.6 1021.7,128.3 1023.1,124.1 1024.9,120.1 1027.1,116.6 1030.9,112.4 1033.7,110.4 1036.6,109.2 1045.9,108.2 1053.3,108.2 1060.5,108.7 1067.6,109.7 1074.5,111.4 1081.3,113.5 1087.9,116.3 1094.4,119.5 1100.6,123.3 1106.6,127.6 1112.3,132.5 1117.9,137.8 1123.1,143.6 1128.3,150.2 1137.3,164.2 1143.9,177.1 1145,180.5 1145.6,184.3 1145.7,188.4 1145.1,192.7 1143.4,199.1 1141.6,203.1 1138.2,208.2 1135.5,211 1095.3,246.1 1092.4,247.7 1089.4,248.6 1086.6,248.5 1084,247.5 1080.7,244.5 1076,236.9 1070.5,230 1065.9,225.4 1059.6,220.5 1052.6,216.5 1045.2,213.8 1039.2,212.5 1028.7,211.5 1026.2,210.2 1023.2,206.8 1021.3,201.9 1020.7,197.9Z"/><path class="k" d="M881.4,313.8L878.8,313.2 876.5,311.8 873.6,308.3 872.3,305.1 871.5,301.4 871.3,297.4 871.6,293.2 872.5,288.9 879.7,268.5 888.7,247.2 896.5,231.3 907.2,212.2 916.4,197.9 928.7,181 939,168.6 952.6,154.4 967,141.7 979,132.8 981.8,131.2 984.7,130.5 987.4,130.7 989.9,131.6 992.1,133.4 994.7,137.4 995.8,140.7 996.4,146.6 996.3,207.8 995.7,212.1 994.6,216.5 993,220.6 990.9,224.4 987.1,229.1 979.6,235.7 971.8,243.5 964.6,252 959.1,259.3 952.6,269.3 946.5,280.1 941,291.5 935.3,305 933,308.6 929,313 924.7,315.6 921.7,316.3Z"/><path class="k" d="M874,350.1L871.1,350.4 868.2,351.5 865.4,353.4 862.7,356 860.3,359.2 858.2,363 856.5,367.1 855.4,371.4 854.1,386.2 853.7,402.8 854.1,419.1 855.3,435 857.4,450.4 860.3,465.1 864,479.2 868.5,492.6 873.7,505.1 879.7,516.7 886.3,527.3 892.2,535.2 896.4,531.6 898.8,528.4 901,524.7 925.9,465.3 927.4,461 928.3,456.6 928.7,452.2 928.5,448.1 927.7,444.3 926.3,441.1 921.2,433.1 916.9,424.4 913.4,415.1 911.2,407.2 908.9,396.4 907.5,385.2 907,376.1 906.8,360.5 906,356.7 904.7,353.5 903.9,352.1Z"/><path class="k" d="M1041,442.2L1031.4,450.4 1025.3,455 1018.9,459.1 1010.5,463.4 1002.1,466.4 993.8,468.3 985.7,469 977.1,468.4 974.2,468.9 969.8,471.3 965.8,475.4 963.4,478.9 961.5,482.8 937.5,540.3 936,544.5 934.8,551 934.8,557.2 936.1,562.6 937.6,565.5 939,567.2 947.4,567.9 954.7,567.9 962.1,567.3 969.6,566.1 977.1,564.4 984.7,562.2 999.9,556.1 1015,547.8 1030.3,537.3 1044.8,525 1059.1,510.6 1062.4,505.3 1064.2,501.3 1065.4,497 1066.3,490.5 1066.2,486.4 1065.5,482.6 1063.5,477.9Z"/><path class="k" d="M1144.7,240L1102.8,276.6 1100.3,279.7 1098.1,283.3 1096.3,287.4 1095,291.7 1094.1,298.2 1094,311.8 1093.5,321.4 1092.1,333.6 1090.4,343.4 1087.6,355.9 1084,368.4 1079.8,380.3 1073.9,394.5 1072.9,398.9 1072.3,405.5 1073.1,411.4 1074.3,414.8 1097.6,451.9 1101.2,448.9 1104.8,444.1 1112.1,429.3 1119.2,412.9 1125.2,397.1 1130.7,380.5 1134.1,368.7 1138.3,351.7 1141.7,335.1 1144.3,318.1 1145.7,306.2 1146.9,289.8 1147.3,273.2 1146.9,256.9 1146,244.5 1145.1,240.9Z"/><path class="k" d="M1067.9,109.8L1060.8,108.7 1053.3,108.2 1045.9,108.2 1036.6,109.2 1033.7,110.4 1030.9,112.4 1027.1,116.6 1024.9,120.1 1022.3,126.2 1021.2,130.4 1020.7,134.7 1020.7,197.9 1021.8,203.6 1023.8,207.7 1031.1,209.5 1038.1,212.4 1047.1,214.4 1052.6,216.5 1057.7,219.3 1064.4,224.1 1069.1,228.5 1074.6,235.1 1078.9,241.5 1119.5,206.1 1122.2,203.3 1125.6,198.2 1128.1,192.1 1129.5,185.7 1129.6,179.4 1129,175.6 1127.9,172.2 1121.1,159 1112.3,145.4 1104.8,136.1 1096.3,127.6 1087.6,120.5 1078.4,114.7 1072.3,111.5Z"/><path class="k" d="M978.8,132.9L967.4,141.4 959.8,147.8 949.1,157.9 939,168.6 932,176.9 922.3,189.4 913.1,202.8 904.7,216.5 896.2,231.8 886.5,251.9 879.7,268.5 873.1,286.7 871.6,293.2 871.3,299.5 872.3,305.1 874.4,309.5 905.7,311.4 908.7,310.7 913,308.1 917,303.7 919.3,300.1 925,286.6 930.5,275.2 936.6,264.4 943.1,254.5 954.1,240.5 961.8,232.5 971.1,224.2 973.7,221.2 976,217.7 977.9,213.7 979.2,209.4 980.1,205.1 980.4,200.8 980.4,141.7 979.8,135.9Z"/><path class="k w" d="M1019.1,111.5L1018.8,108.7 1017.8,106.4 1016.4,104.9 1014.5,104.3 1012.5,104.7 1010.5,106 1008.6,108.1 1007.2,110.7 1006.2,113.8 1005.9,116.8 1006.2,119.6 1007.2,121.9 1008.6,123.4 1010.5,124 1012.5,123.7 1014.5,122.4 1016.4,120.3 1017.8,117.6 1018.8,114.6Z"/><path class="k w" d="M1022.1,112.4L1021.8,109.6 1020.8,107.4 1019.4,105.8 1017.5,105.2 1015.5,105.6 1013.5,106.9 1011.6,109 1010.2,111.7 1009.2,114.7 1008.9,117.8 1009.2,120.6 1010.2,122.8 1011.6,124.3 1013.5,125 1015.5,124.6 1017.5,123.3 1019.4,121.2 1020.8,118.5 1021.8,115.5Z"/><path class="k" d="M1019,113.7L1018.6,111.7 1017.7,110.3 1016.3,109.9 1014.7,110.5 1013.3,112.1 1012.4,114.2 1012,116.5 1012.4,118.5 1013.3,119.9 1014.7,120.3 1016.3,119.7 1017.7,118.1 1018.6,116Z"/><path class="k w" d="M1021.2,181.9L1020.9,178.8 1020,176.1 1018.6,174.1 1016.8,172.9 1014.7,172.5 1012.5,172.9 1010.3,174.3 1008.2,176.4 1006.4,179.1 1005,182.2 1004.1,185.6 1003.8,188.9 1004.1,192 1005,194.7 1006.4,196.7 1008.2,198 1010.3,198.4 1012.5,197.9 1014.7,196.6 1016.8,194.5 1018.6,191.8 1020,188.6 1020.9,185.3Z"/><path class="k w" d="M1027.2,183.8L1026.9,180.6 1026,178 1024.6,175.9 1022.8,174.7 1020.7,174.3 1018.5,174.8 1016.3,176.1 1014.2,178.2 1012.4,180.9 1011,184 1010.1,187.4 1009.8,190.8 1010.1,193.9 1011,196.5 1012.4,198.6 1014.2,199.8 1016.3,200.2 1018.5,199.8 1020.7,198.4 1022.8,196.3 1024.6,193.6 1026,190.5 1026.9,187.1Z"/><path class="k w" d="M1024.7,184.7L1024.4,182.1 1023.5,179.9 1022.2,178.5 1020.4,177.9 1018.5,178.3 1016.6,179.5 1014.8,181.5 1013.5,184 1012.6,186.9 1012.3,189.8 1012.6,192.4 1013.5,194.6 1014.8,196 1016.6,196.6 1018.5,196.3 1020.4,195 1022.2,193.1 1023.5,190.5 1024.4,187.6Z"/><path class="k w" d="M1029.7,186.3L1029.4,183.6 1028.5,181.5 1027.2,180 1025.4,179.4 1023.5,179.8 1021.6,181 1019.8,183 1018.5,185.5 1017.6,188.4 1017.3,191.3 1017.6,194 1018.5,196.1 1019.8,197.5 1021.6,198.1 1023.5,197.8 1025.4,196.6 1027.2,194.6 1028.5,192 1029.4,189.2Z"/><path class="k" d="M1026.6,187.5L1026.3,185.7 1025.4,184.5 1024.2,184.1 1022.8,184.7 1021.6,186.1 1020.7,188 1020.4,190 1020.7,191.9 1021.6,193.1 1022.8,193.5 1024.2,192.9 1025.4,191.5 1026.3,189.6Z"/><path class="k w" d="M1168.8,208.1L1168.5,205.3 1167.5,203.1 1166.1,201.5 1164.3,200.9 1162.2,201.3 1160.2,202.6 1158.4,204.7 1156.9,207.4 1156,210.4 1155.7,213.5 1156,216.3 1156.9,218.5 1158.4,220 1160.2,220.7 1162.2,220.3 1164.3,219 1166.1,216.9 1167.5,214.2 1168.5,211.2Z"/><path class="k w" d="M1171.8,209.1L1171.5,206.2 1170.5,204 1169.1,202.5 1167.3,201.9 1165.2,202.2 1163.2,203.5 1161.4,205.6 1159.9,208.3 1159,211.3 1158.7,214.4 1159,217.2 1159.9,219.4 1161.4,221 1163.2,221.6 1165.2,221.2 1167.3,219.9 1169.1,217.8 1170.5,215.1 1171.5,212.1Z"/><path class="k" d="M1168.7,210.3L1168.3,208.3 1167.4,206.9 1166,206.5 1164.5,207.1 1163.1,208.7 1162.1,210.8 1161.8,213.1 1162.1,215.1 1163.1,216.5 1164.5,216.9 1166,216.3 1167.4,214.7 1168.3,212.6Z"/><path class="k w" d="M1124,248.3L1123.7,245.2 1122.8,242.5 1121.4,240.5 1119.7,239.2 1117.6,238.8 1115.3,239.3 1113.1,240.6 1111,242.7 1109.2,245.4 1107.8,248.6 1107,251.9 1106.7,255.3 1107,258.4 1107.8,261.1 1109.2,263.1 1111,264.4 1113.1,264.8 1115.3,264.3 1117.6,263 1119.7,260.9 1121.4,258.2 1122.8,255 1123.7,251.6Z"/><path class="k w" d="M1130,250.1L1129.7,247 1128.8,244.3 1127.4,242.3 1125.7,241 1123.6,240.6 1121.3,241.1 1119.1,242.4 1117,244.5 1115.2,247.3 1113.8,250.4 1113,253.8 1112.7,257.1 1113,260.2 1113.8,262.9 1115.2,264.9 1117,266.2 1119.1,266.6 1121.3,266.1 1123.6,264.8 1125.7,262.7 1127.4,260 1128.8,256.8 1129.7,253.5Z"/><path class="k w" d="M1127.6,251.1L1127.3,248.4 1126.4,246.3 1125,244.9 1123.3,244.3 1121.3,244.6 1119.4,245.8 1117.7,247.8 1116.3,250.4 1115.4,253.2 1115.1,256.1 1115.4,258.8 1116.3,260.9 1117.7,262.4 1119.4,263 1121.3,262.6 1123.3,261.4 1125,259.4 1126.4,256.9 1127.3,254Z"/><path class="k w" d="M1132.6,252.6L1132.3,250 1131.4,247.8 1130,246.4 1128.3,245.8 1126.3,246.1 1124.4,247.4 1122.7,249.3 1121.3,251.9 1120.4,254.8 1120.1,257.7 1120.4,260.3 1121.3,262.5 1122.7,263.9 1124.4,264.5 1126.3,264.1 1128.3,262.9 1130,260.9 1131.4,258.4 1132.3,255.5Z"/><path class="k" d="M1129.4,253.9L1129.1,252.1 1128.3,250.8 1127,250.5 1125.6,251 1124.4,252.4 1123.5,254.3 1123.2,256.4 1123.5,258.2 1124.4,259.4 1125.6,259.8 1127,259.2 1128.3,257.9 1129.1,256Z"/><path class="k w" d="M1111.6,485.6L1111.3,482.8 1110.4,480.6 1108.9,479 1107.1,478.4 1105,478.8 1103,480.1 1101.2,482.2 1099.7,484.9 1098.8,487.9 1098.5,490.9 1098.8,493.8 1099.7,496 1101.2,497.5 1103,498.1 1105,497.8 1107.1,496.5 1108.9,494.4 1110.4,491.7 1111.3,488.7Z"/><path class="k w" d="M1114.6,486.5L1114.3,483.7 1113.4,481.5 1111.9,480 1110.1,479.3 1108,479.7 1106,481 1104.2,483.1 1102.7,485.8 1101.8,488.8 1101.5,491.9 1101.8,494.7 1102.7,496.9 1104.2,498.5 1106,499.1 1108,498.7 1110.1,497.4 1111.9,495.3 1113.4,492.6 1114.3,489.6Z"/><path class="k" d="M1111.5,487.8L1111.2,485.8 1110.2,484.4 1108.8,484 1107.3,484.6 1105.9,486.2 1104.9,488.3 1104.6,490.6 1104.9,492.6 1105.9,494 1107.3,494.4 1108.8,493.8 1110.2,492.2 1111.2,490.1Z"/><path class="k w" d="M1084.7,438.9L1084.4,435.8 1083.5,433.1 1082.2,431.1 1080.4,429.8 1078.3,429.4 1076.1,429.9 1073.8,431.2 1071.7,433.3 1069.9,436 1068.6,439.2 1067.7,442.5 1067.4,445.9 1067.7,449 1068.6,451.7 1069.9,453.7 1071.7,454.9 1073.8,455.4 1076.1,454.9 1078.3,453.5 1080.4,451.4 1082.2,448.7 1083.5,445.6 1084.4,442.2Z"/><path class="k w" d="M1090.7,440.7L1090.4,437.6 1089.5,434.9 1088.2,432.9 1086.4,431.6 1084.3,431.2 1082.1,431.7 1079.8,433 1077.7,435.1 1075.9,437.8 1074.6,441 1073.7,444.3 1073.4,447.7 1073.7,450.8 1074.6,453.5 1075.9,455.5 1077.7,456.8 1079.8,457.2 1082.1,456.7 1084.3,455.4 1086.4,453.3 1088.2,450.6 1089.5,447.4 1090.4,444.1Z"/><path class="k w" d="M1088.3,441.7L1088,439 1087.1,436.9 1085.7,435.4 1084,434.9 1082.1,435.2 1080.1,436.4 1078.4,438.4 1077,441 1076.1,443.8 1075.8,446.7 1076.1,449.4 1077,451.5 1078.4,453 1080.1,453.5 1082.1,453.2 1084,452 1085.7,450 1087.1,447.5 1088,444.6Z"/><path class="k w" d="M1093.3,443.2L1093,440.6 1092.1,438.4 1090.7,437 1089,436.4 1087.1,436.7 1085.1,437.9 1083.4,439.9 1082,442.5 1081.1,445.3 1080.8,448.2 1081.1,450.9 1082,453.1 1083.4,454.5 1085.1,455.1 1087.1,454.7 1089,453.5 1090.7,451.5 1092.1,449 1093,446.1Z"/><path class="k" d="M1090.2,444.5L1089.9,442.6 1089,441.4 1087.7,441.1 1086.4,441.6 1085.1,443 1084.2,444.9 1083.9,447 1084.2,448.8 1085.1,450 1086.4,450.4 1087.7,449.8 1089,448.5 1089.9,446.5Z"/><path class="k w" d="M926.5,560.5L926.2,557.7 925.3,555.4 923.8,553.9 922,553.3 920,553.7 917.9,555 916.1,557.1 914.6,559.7 913.7,562.8 913.4,565.8 913.7,568.6 914.6,570.9 916.1,572.4 917.9,573 920,572.7 922,571.4 923.8,569.3 925.3,566.6 926.2,563.6Z"/><path class="k w" d="M929.5,561.4L929.2,558.6 928.3,556.4 926.8,554.8 925,554.2 923,554.6 920.9,555.9 919.1,558 917.6,560.7 916.7,563.7 916.4,566.7 916.7,569.6 917.6,571.8 919.1,573.3 920.9,573.9 923,573.6 925,572.3 926.8,570.2 928.3,567.5 929.2,564.5Z"/><path class="k" d="M926.4,562.7L926.1,560.7 925.1,559.3 923.7,558.9 922.2,559.5 920.8,561.1 919.8,563.2 919.5,565.5 919.8,567.5 920.8,568.9 922.2,569.3 923.7,568.7 925.1,567.1 926.1,565Z"/><path class="k w" d="M957.6,490.3L957.3,487.2 956.4,484.5 955.1,482.5 953.3,481.2 951.2,480.8 948.9,481.3 946.7,482.6 944.6,484.7 942.8,487.4 941.5,490.6 940.6,494 940.3,497.3 940.6,500.4 941.5,503.1 942.8,505.1 944.6,506.4 946.7,506.8 948.9,506.3 951.2,505 953.3,502.9 955.1,500.2 956.4,497 957.3,493.7Z"/><path class="k w" d="M963.6,492.1L963.3,489 962.4,486.4 961.1,484.3 959.3,483.1 957.2,482.7 954.9,483.1 952.7,484.5 950.6,486.6 948.8,489.3 947.5,492.4 946.6,495.8 946.3,499.1 946.6,502.3 947.5,504.9 948.8,506.9 950.6,508.2 952.7,508.6 954.9,508.1 957.2,506.8 959.3,504.7 961.1,502 962.4,498.9 963.3,495.5Z"/><path class="k w" d="M961.2,493.1L960.9,490.5 960,488.3 958.6,486.9 956.9,486.3 954.9,486.6 953,487.9 951.3,489.8 949.9,492.4 949,495.3 948.7,498.2 949,500.8 949.9,503 951.3,504.4 953,505 954.9,504.6 956.9,503.4 958.6,501.4 960,498.9 960.9,496Z"/><path class="k w" d="M966.2,494.6L965.9,492 965,489.8 963.6,488.4 961.9,487.8 959.9,488.2 958,489.4 956.3,491.4 954.9,493.9 954,496.8 953.7,499.7 954,502.3 954.9,504.5 956.3,505.9 958,506.5 959.9,506.2 961.9,504.9 963.6,503 965,500.4 965.9,497.5Z"/><path class="k" d="M963.1,495.9L962.8,494.1 961.9,492.9 960.6,492.5 959.3,493.1 958,494.4 957.1,496.3 956.8,498.4 957.1,500.2 958,501.5 959.3,501.8 960.6,501.3 961.9,499.9 962.8,498Z"/><path class="k w" d="M869.3,329.3L869,326.5 868.1,324.2 866.6,322.7 864.8,322.1 862.8,322.5 860.7,323.7 858.9,325.8 857.5,328.5 856.5,331.6 856.2,334.6 856.5,337.4 857.5,339.7 858.9,341.2 860.7,341.8 862.8,341.5 864.8,340.2 866.6,338.1 868.1,335.4 869,332.4Z"/><path class="k w" d="M872.3,330.2L872,327.4 871.1,325.1 869.6,323.6 867.8,323 865.8,323.4 863.7,324.7 861.9,326.8 860.5,329.4 859.5,332.5 859.2,335.5 859.5,338.3 860.5,340.6 861.9,342.1 863.7,342.7 865.8,342.4 867.8,341.1 869.6,339 871.1,336.3 872,333.3Z"/><path class="k" d="M869.2,331.5L868.9,329.4 867.9,328.1 866.5,327.7 865,328.3 863.6,329.8 862.7,332 862.3,334.3 862.7,336.3 863.6,337.7 865,338.1 866.5,337.4 867.9,335.9 868.9,333.8Z"/><path class="k w" d="M918.3,331.5L918,328.4 917.2,325.7 915.8,323.7 914,322.4 911.9,322 909.7,322.5 907.4,323.8 905.3,325.9 903.6,328.6 902.2,331.8 901.3,335.2 901,338.5 901.3,341.6 902.2,344.3 903.6,346.3 905.3,347.6 907.4,348 909.7,347.5 911.9,346.2 914,344.1 915.8,341.4 917.2,338.2 918,334.9Z"/><path class="k w" d="M924.3,333.3L924,330.2 923.2,327.6 921.8,325.5 920,324.3 917.9,323.9 915.7,324.3 913.4,325.7 911.3,327.8 909.6,330.5 908.2,333.6 907.3,337 907,340.3 907.3,343.5 908.2,346.1 909.6,348.1 911.3,349.4 913.4,349.8 915.7,349.3 917.9,348 920,345.9 921.8,343.2 923.2,340.1 924,336.7Z"/><path class="k w" d="M921.9,334.3L921.6,331.7 920.7,329.5 919.3,328.1 917.6,327.5 915.7,327.8 913.7,329.1 912,331 910.6,333.6 909.7,336.5 909.4,339.4 909.7,342 910.6,344.2 912,345.6 913.7,346.2 915.7,345.8 917.6,344.6 919.3,342.6 920.7,340.1 921.6,337.2Z"/><path class="k w" d="M926.9,335.8L926.6,333.2 925.7,331 924.3,329.6 922.6,329 920.7,329.4 918.7,330.6 917,332.6 915.6,335.1 914.7,338 914.4,340.9 914.7,343.5 915.6,345.7 917,347.1 918.7,347.7 920.7,347.4 922.6,346.1 924.3,344.2 925.7,341.6 926.6,338.7Z"/><path class="k" d="M923.8,337.1L923.5,335.3 922.6,334.1 921.4,333.7 920,334.3 918.7,335.6 917.9,337.5 917.6,339.6 917.9,341.4 918.7,342.7 920,343 921.4,342.5 922.6,341.1 923.5,339.2Z"/><path class="h2" d="M1040,214C1042,215.7 1047.7,220 1052,224C1056.3,228 1061.7,234.2 1066,238C1070.3,241.8 1076,245.5 1078,247"/><path class="k" d="M1034,217C1036.2,219 1042.7,224.7 1047,229C1051.3,233.3 1056.5,239.5 1060,243C1063.5,246.5 1066.7,248.8 1068,250"/><path class="k" d="M1030,222C1031.7,223.8 1036.3,228.7 1040,233C1043.7,237.3 1049,244.3 1052,248C1055,251.7 1057,253.8 1058,255"/><path class="h2" d="M975,452C977.5,453.7 985,460 990,462C995,464 999.7,464.3 1005,464C1010.3,463.7 1019.2,460.7 1022,460"/><path class="k" d="M978,447C980.3,448.5 987.7,454.2 992,456C996.3,457.8 1000,458 1004,458C1008,458 1014,456.3 1016,456"/><path class="k w" d="M1078.9,247.9C1074.6,249.4 1061,252.5 1052.9,257.2C1044.9,261.8 1037.4,268.4 1030.6,275.8C1023.8,283.2 1017.6,292.5 1012,301.8C1006.4,311.1 1001.1,321.3 997.2,331.5C993.3,341.7 990.7,353.9 988.8,363.1C986.9,372.4 985.9,378.3 986,387C986.1,395.7 987.8,407.3 989.7,415.1C991.6,422.9 994.1,427.8 997.2,433.7C1000.3,439.6 1004.3,446.1 1008.3,450.4C1012.3,454.7 1019.1,458.1 1021.3,459.7L1151.8,505.3L1179.3,513.3L1214,285.6Z"/><path class="k" d="M1218,283.2L1213.7,282.1 1209.3,281.5 1204.7,281.3 1200.1,281.6 1195.5,282.3 1190.8,283.5 1186.1,285.1 1181.3,287.1 1176.6,289.5 1171.9,292.4 1167.3,295.6 1162.7,299.3 1158.3,303.3 1153.9,307.7 1149.7,312.4 1145.6,317.5 1141.6,322.8 1137.8,328.5 1134.2,334.4 1130.8,340.5 1127.7,346.8 1124.7,353.4 1122,360 1119.5,366.9 1117.3,373.8 1115.4,380.8 1113.7,387.9 1112.3,395 1111.2,402.1 1110.4,409.1 1109.9,416.1 1109.7,423 1109.7,429.8 1110.1,436.5 1110.8,443 1111.7,449.3 1113,455.4 1114.5,461.2 1116.3,466.8 1118.4,472.1 1120.7,477.1 1123.3,481.7 1126.2,486 1129.3,490 1132.5,493.6 1136,496.7 1139.7,499.5 1143.6,501.9 1147.6,503.8 1151.8,505.3"/><ellipse class="h w" cx="1210.5" cy="151.5" rx="10.5" ry="15" transform="rotate(-14 1210.5 151.5)"/><path class="h w" d="M1214,136.5Q1224,131 1231.5,140Q1237,150 1235.5,158L1224,166Q1228,152 1221,142Z"/><path class="k" d="M1217,135.5Q1226,133 1231.5,144Q1234.5,152 1233,160"/><ellipse class="h w" cx="1221.5" cy="151" rx="7.5" ry="14" transform="rotate(-14 1221.5 151)"/><path class="k" d="M1226,160L1227,166M1221,163L1222,168"/><path class="bk" fill-rule="evenodd" d="M1404.9,339L1404.5,321.7 1403.2,304.9 1401.1,288.6 1398.2,272.8 1394.5,257.7 1389.9,243.4 1384.6,229.8 1378.6,217.2 1371.9,205.4 1364.4,194.7 1356.3,185 1347.7,176.4 1338.4,168.9 1328.6,162.6 1318.4,157.5 1307.7,153.6 1296.7,151 1285.4,149.6 1273.8,149.5 1261.9,150.6 1250,153.1 1237.9,156.7 1225.9,161.6 1213.8,167.7 1201.9,175 1190,183.4 1178.4,192.9 1167.1,203.4 1156.1,215 1145.4,227.5 1135.2,240.9 1125.4,255.1 1116.1,270.1 1107.5,285.7 1099.4,301.9 1091.9,318.7 1085.2,335.9 1079.2,353.4 1073.9,371.3 1069.3,389.3 1065.6,407.4 1062.7,425.5 1060.6,443.5 1059.3,461.4 1058.9,479 1059.3,496.3 1060.6,513.1 1062.7,529.4 1065.6,545.2 1069.3,560.3 1073.9,574.6 1079.2,588.2 1085.2,600.8 1091.9,612.6 1099.4,623.3 1107.5,633 1116.1,641.6 1125.4,649.1 1135.2,655.4 1145.4,660.5 1156.1,664.4 1167.1,667 1178.4,668.4 1190,668.5 1201.9,667.4 1213.8,664.9 1225.9,661.3 1237.9,656.4 1250,650.3 1261.9,643 1273.8,634.6 1285.4,625.1 1296.7,614.6 1307.7,603 1318.4,590.5 1328.6,577.1 1338.4,562.9 1347.7,547.9 1356.3,532.3 1364.4,516.1 1371.9,499.3 1378.6,482.1 1384.6,464.6 1389.9,446.7 1394.5,428.7 1398.2,410.6 1401.1,392.5 1403.2,374.5 1404.5,356.6ZM1409.5,340L1409.1,322.7 1407.8,305.9 1405.7,289.6 1402.8,273.8 1399.1,258.7 1394.5,244.4 1389.2,230.8 1383.2,218.2 1376.5,206.4 1369,195.7 1360.9,186 1352.3,177.4 1343,169.9 1333.2,163.6 1323,158.5 1312.3,154.6 1301.3,152 1290,150.6 1278.4,150.5 1266.5,151.6 1254.6,154.1 1242.5,157.7 1230.5,162.6 1218.4,168.7 1206.5,176 1194.6,184.4 1183,193.9 1171.7,204.4 1160.7,216 1150,228.5 1139.8,241.9 1130,256.1 1120.7,271.1 1112.1,286.7 1104,302.9 1096.5,319.7 1089.8,336.9 1083.8,354.4 1078.5,372.3 1073.9,390.3 1070.2,408.4 1067.3,426.5 1065.2,444.5 1063.9,462.4 1063.5,480 1063.9,497.3 1065.2,514.1 1067.3,530.4 1070.2,546.2 1073.9,561.3 1078.5,575.6 1083.8,589.2 1089.8,601.8 1096.5,613.6 1104,624.3 1112.1,634 1120.7,642.6 1130,650.1 1139.8,656.4 1150,661.5 1160.7,665.4 1171.7,668 1183,669.4 1194.6,669.5 1206.5,668.4 1218.4,665.9 1230.5,662.3 1242.5,657.4 1254.6,651.3 1266.5,644 1278.4,635.6 1290,626.1 1301.3,615.6 1312.3,604 1323,591.5 1333.2,578.1 1343,563.9 1352.3,548.9 1360.9,533.3 1369,517.1 1376.5,500.3 1383.2,483.1 1389.2,465.6 1394.5,447.7 1399.1,429.7 1402.8,411.6 1405.7,393.5 1407.8,375.5 1409.1,357.6Z"/><path class="h w" fill-rule="evenodd" d="M1409.5,340L1409.1,322.7 1407.8,305.9 1405.7,289.6 1402.8,273.8 1399.1,258.7 1394.5,244.4 1389.2,230.8 1383.2,218.2 1376.5,206.4 1369,195.7 1360.9,186 1352.3,177.4 1343,169.9 1333.2,163.6 1323,158.5 1312.3,154.6 1301.3,152 1290,150.6 1278.4,150.5 1266.5,151.6 1254.6,154.1 1242.5,157.7 1230.5,162.6 1218.4,168.7 1206.5,176 1194.6,184.4 1183,193.9 1171.7,204.4 1160.7,216 1150,228.5 1139.8,241.9 1130,256.1 1120.7,271.1 1112.1,286.7 1104,302.9 1096.5,319.7 1089.8,336.9 1083.8,354.4 1078.5,372.3 1073.9,390.3 1070.2,408.4 1067.3,426.5 1065.2,444.5 1063.9,462.4 1063.5,480 1063.9,497.3 1065.2,514.1 1067.3,530.4 1070.2,546.2 1073.9,561.3 1078.5,575.6 1083.8,589.2 1089.8,601.8 1096.5,613.6 1104,624.3 1112.1,634 1120.7,642.6 1130,650.1 1139.8,656.4 1150,661.5 1160.7,665.4 1171.7,668 1183,669.4 1194.6,669.5 1206.5,668.4 1218.4,665.9 1230.5,662.3 1242.5,657.4 1254.6,651.3 1266.5,644 1278.4,635.6 1290,626.1 1301.3,615.6 1312.3,604 1323,591.5 1333.2,578.1 1343,563.9 1352.3,548.9 1360.9,533.3 1369,517.1 1376.5,500.3 1383.2,483.1 1389.2,465.6 1394.5,447.7 1399.1,429.7 1402.8,411.6 1405.7,393.5 1407.8,375.5 1409.1,357.6ZM1102,419.7L1099.1,419.9 1096.2,421 1093.4,422.9 1090.7,425.5 1088.3,428.8 1086.2,432.5 1084.5,436.6 1083.4,441 1082.1,455.8 1081.7,472.4 1082.1,488.7 1083.3,504.6 1085.4,519.9 1088.3,534.7 1092,548.8 1096.5,562.1 1101.7,574.6 1107.7,586.2 1114.3,596.9 1120.2,604.7 1123.1,602.5 1125.7,599.6 1128,596.2 1129.9,592.3 1157.5,525.9 1159.1,519.5 1159.5,515.2 1159.3,511.1 1158.6,507.4 1157.3,504.1 1152.1,495.5 1148.2,487.1 1145.7,480.3 1143.7,473 1141.5,462.8 1140.4,454.6 1139.6,443.7 1139.4,430.4 1138.1,424.9 1136.5,421.9ZM1266.2,507.2L1258.2,514 1252.2,518.4 1244.5,523.2 1238.6,526.1 1230.6,529.1 1222.7,530.9 1215,531.5 1207.8,531.1 1204.9,531.7 1200.6,534.1 1196.6,538.1 1194.3,541.6 1192.3,545.5 1165.5,609.8 1164,614 1162.8,620.5 1162.8,626.7 1164.1,632.1 1165.6,635.1 1167,636.7 1175.4,637.4 1182.7,637.4 1190.1,636.8 1197.6,635.7 1205.1,634 1212.7,631.7 1227.9,625.6 1243,617.4 1258.3,606.8 1272.8,594.5 1287.1,580.1 1290.4,574.8 1292.2,570.8 1293.4,566.6 1294.3,560.1 1294.2,556 1293.5,552.2 1291.5,547.4ZM1372.7,309.5L1326.2,350.1 1323.7,353.2 1321.5,356.8 1319.7,360.9 1318.4,365.2 1317.4,371.8 1317.4,383.2 1316.6,394.6 1314,412.7 1311.3,424.6 1307.9,436.1 1304.9,445 1299,460 1297.9,464.3 1297.5,470.7 1298.3,476.5 1300.3,481.3 1325.6,521.5 1329.2,518.5 1332.8,513.6 1340.1,498.9 1347.2,482.5 1353.2,466.7 1358.7,450 1362.1,438.2 1366.3,421.2 1369.7,404.7 1372.3,387.6 1373.7,375.7 1374.9,359.4 1375.3,342.7 1374.9,326.4 1374,314 1373.1,310.4ZM1295.9,179.3L1288.8,178.2 1281.3,177.7 1273.9,177.7 1264.6,178.7 1260.3,180.8 1257.6,183.2 1255.1,186.2 1252.9,189.7 1250.3,195.7 1249.2,200 1248.7,204.3 1248.7,274.5 1249.8,280.1 1252,284.6 1258.6,286.5 1264,288.8 1269.4,289.8 1274.6,291.3 1283,295.4 1287.9,298.8 1293.7,304 1297.9,308.8 1302.2,315.1 1347.5,275.6 1350.2,272.9 1353.6,267.7 1356.1,261.7 1357.5,255.2 1357.6,249 1357,245.1 1355.9,241.8 1349.1,228.5 1340.3,214.9 1332.8,205.6 1324.3,197.1 1315.6,190.1 1306.4,184.2 1300.3,181.1ZM1206.8,202.4L1195.4,210.9 1187.8,217.3 1177.1,227.4 1167,238.1 1160,246.4 1150.3,259 1141.1,272.4 1132.7,286.1 1124.2,301.3 1114.5,321.5 1107.7,338 1101.1,356.3 1099.6,362.7 1099.3,369 1100.3,374.7 1102.4,379.1 1138.3,381.3 1142.6,379.9 1145.5,378 1149.4,373.8 1151.7,370.3 1161.9,348.1 1167.5,338 1173.8,328.4 1184,315.4 1191.3,307.8 1199.2,300.8 1201.7,297.8 1204,294.2 1205.9,290.2 1207.2,286 1208.1,281.6 1208.4,277.3 1208.4,211.3 1207.8,205.4Z"/><path class="k" d="M1402.6,342.8L1402.2,326.2 1401,310.1 1399,294.4 1396.1,279.3 1392.6,264.8 1388.2,251 1383.1,238 1377.3,225.8 1370.9,214.6 1363.7,204.3 1356,194.9 1347.6,186.7 1338.7,179.5 1329.4,173.5 1319.5,168.6 1309.3,164.8 1298.7,162.3 1287.8,161 1276.7,160.9 1265.3,162 1253.9,164.3 1242.3,167.8 1230.7,172.5 1219.1,178.3 1207.7,185.3 1196.3,193.4 1185.2,202.5 1174.3,212.6 1163.7,223.7 1153.5,235.8 1143.6,248.6 1134.3,262.2 1125.4,276.6 1117,291.6 1109.3,307.2 1102.1,323.3 1095.7,339.8 1089.9,356.7 1084.8,373.8 1080.4,391.1 1076.9,408.4 1074,425.8 1072,443.1 1070.8,460.3 1070.4,477.2 1070.8,493.8 1072,509.9 1074,525.6 1076.9,540.7 1080.4,555.2 1084.8,569 1089.9,582 1095.7,594.2 1102.1,605.4 1109.3,615.7 1117,625.1 1125.4,633.3 1134.3,640.5 1143.6,646.5 1153.5,651.4 1163.7,655.2 1174.3,657.7 1185.2,659 1196.3,659.1 1207.7,658 1219.1,655.7 1230.7,652.2 1242.3,647.5 1253.9,641.7 1265.3,634.7 1276.7,626.6 1287.8,617.5 1298.7,607.4 1309.3,596.3 1319.5,584.2 1329.4,571.4 1338.7,557.8 1347.6,543.4 1356,528.4 1363.7,512.8 1370.9,496.7 1377.3,480.2 1383.1,463.3 1388.2,446.2 1392.6,428.9 1396.1,411.6 1399,394.2 1401,376.9 1402.2,359.7Z"/><path class="t2" d="M1400.7,343.6L1400.3,327.2 1399.1,311.2 1397.1,295.7 1394.3,280.7 1390.8,266.4 1386.5,252.8 1381.5,240 1375.7,227.9 1369.3,216.8 1362.3,206.6 1354.6,197.4 1346.4,189.2 1337.6,182.1 1328.3,176.2 1318.6,171.3 1308.5,167.6 1298,165.1 1287.2,163.8 1276.2,163.7 1265,164.8 1253.7,167.1 1242.2,170.6 1230.8,175.2 1219.3,181 1208,187.9 1196.8,195.9 1185.8,204.9 1175,214.9 1164.5,225.9 1154.4,237.8 1144.7,250.5 1135.4,263.9 1126.6,278.1 1118.4,293 1110.7,308.4 1103.7,324.3 1097.3,340.6 1091.5,357.3 1086.5,374.2 1082.2,391.3 1078.7,408.5 1075.9,425.7 1073.9,442.8 1072.7,459.7 1072.3,476.4 1072.7,492.8 1073.9,508.8 1075.9,524.3 1078.7,539.3 1082.2,553.6 1086.5,567.2 1091.5,580 1097.3,592.1 1103.7,603.2 1110.7,613.4 1118.4,622.6 1126.6,630.8 1135.4,637.9 1144.7,643.8 1154.4,648.7 1164.5,652.4 1175,654.9 1185.8,656.2 1196.8,656.3 1208,655.2 1219.3,652.9 1230.8,649.4 1242.2,644.8 1253.7,639 1265,632.1 1276.2,624.1 1287.2,615.1 1298,605.1 1308.5,594.1 1318.6,582.2 1328.3,569.5 1337.6,556.1 1346.4,541.9 1354.6,527 1362.3,511.6 1369.3,495.7 1375.7,479.4 1381.5,462.7 1386.5,445.8 1390.8,428.7 1394.3,411.5 1397.1,394.3 1399.1,377.2 1400.3,360.3Z"/><path class="t" d="M1102,419.7L1099.1,419.9 1096.2,421 1093.4,422.9 1090.7,425.5 1088.3,428.8 1086.2,432.5 1084.5,436.6 1083.4,441 1082.1,455.8 1081.7,472.9 1082.1,489.2 1083.9,509.7 1086.3,524.9 1089.4,539.4 1093.4,553.3 1098.3,566.8 1103.8,579 1110,590.2 1119.1,603.4 1123.2,608.3 1125,609.8 1129.3,608.6 1133.5,605.7 1136.1,602.8 1139.4,597.5 1167.9,529.1 1169.5,522.7 1169.9,518.4 1169.7,514.3 1169,510.5 1167.7,507.3 1162.5,498.7 1158.6,490.3 1156.1,483.4 1154.1,476.2 1151.9,466 1150.8,457.7 1150,446.9 1149.8,433.5 1148.5,428.1 1146.9,425.1 1144.3,422.4Z"/><path class="t" d="M1102,419.7L1099.1,419.9 1096.2,421 1093.4,422.9 1090.7,425.5 1088.3,428.8 1086.2,432.5 1084.5,436.6 1083.4,441 1082.1,455.8 1081.7,472.4 1082.1,488.7 1083.4,505 1085.5,520.4 1088.4,535.1 1092.1,549.2 1096.6,562.5 1101.9,575 1107.9,586.6 1114.5,597.2 1119.4,603.7 1123.8,608.9 1126.9,607.9 1131.1,604.9 1133.7,602.1 1137,596.7 1165.5,528.4 1167.1,521.9 1167.5,517.6 1167.3,513.5 1166.6,509.8 1165.3,506.6 1160.1,497.9 1156.2,489.5 1153.7,482.7 1151.7,475.5 1149.5,465.3 1148.4,457 1147.6,446.1 1147.4,432.8 1146.1,427.3 1144.5,424.4 1142.7,422.3Z"/><path class="t" d="M1272.3,505L1268.1,506.1 1265.2,507.9 1258,514.1 1250.3,519.7 1244.5,523.2 1238.6,526.1 1230.6,529.1 1222.7,530.9 1215,531.5 1207.8,531.1 1204.9,531.7 1200.6,534.1 1196.6,538.1 1194.3,541.6 1192.3,545.5 1165.5,609.8 1164,614 1162.8,620.5 1162.8,626.7 1163.6,630.5 1164.8,633.7 1167.6,637.4 1169.2,638.5 1178.9,640.1 1189.4,640.6 1197.2,640.3 1204.6,639.4 1215.5,637.1 1223.1,634.9 1231.1,632 1242.1,626.9 1249.7,622.8 1265,612.7 1272.4,607.1 1282.9,598 1290.3,590.9 1297.5,583.3 1299.8,579.9 1301.8,576 1303.3,571.9 1304.3,567.6 1304.7,561.2 1304.3,557.2 1303.4,553.6 1301.9,550.6 1275.1,508.1Z"/><path class="t" d="M1269.6,505.5L1265.2,507.9 1258,514.1 1250.4,519.6 1244.5,523.2 1238.6,526.1 1230.6,529.1 1222.7,530.9 1215,531.5 1207.8,531.1 1204.9,531.7 1200.6,534.1 1196.6,538.1 1194.3,541.6 1192.3,545.5 1165.5,609.8 1164,614 1162.8,620.5 1162.8,626.7 1163.6,630.5 1164.8,633.7 1167.6,637.4 1169.4,638.3 1180.1,639.7 1190.7,639.8 1198.5,639.2 1209.4,637.3 1216.9,635.4 1224.5,632.8 1232.1,629.8 1239.7,626.2 1247.6,621.9 1258.5,614.9 1265.9,609.5 1280.8,597 1295.1,582.6 1297.4,579.2 1299.4,575.3 1300.9,571.1 1301.9,566.8 1302.3,560.4 1301.9,556.5 1301,552.9 1299.5,549.9 1272.7,507.3 1270.9,505.2Z"/><path class="t" d="M1379.2,307.1L1375.3,308 1371,310.8 1326.2,350.1 1323.7,353.2 1321.5,356.8 1319.7,360.9 1318.4,365.2 1317.4,371.8 1317.4,383.2 1316.6,394.6 1314,412.5 1311.3,424.4 1307.9,436.1 1304.9,445 1299,460 1297.7,466.5 1297.6,472.8 1298.8,478.3 1300.3,481.3 1327.1,523.8 1329.9,526.9 1332.5,526.4 1335.4,525.1 1338.2,523 1340.8,520.2 1344.2,514.9 1350.7,501.6 1359.5,480.8 1365.7,463.8 1372.4,442 1376.7,424.4 1381,402.2 1383.4,385.1 1385,367.6 1385.7,350.9 1385.5,334.5 1384.4,317.2 1383.5,313.6 1382.1,310.5Z"/><path class="t" d="M1377.8,307.3L1373.9,308.7 1371,310.8 1326.2,350.1 1323.7,353.2 1321.5,356.8 1319.7,360.9 1318.4,365.2 1317.4,371.8 1317.4,383.2 1316.6,394.6 1314,412.5 1311.3,424.4 1307.9,436.1 1304.9,445 1299,460 1297.7,466.5 1297.6,472.8 1298.8,478.3 1300.3,481.3 1327.1,523.8 1328.9,526 1331.6,525.1 1334.4,523.4 1337.2,520.9 1339.6,517.8 1343.3,511.2 1350.5,496.1 1357.1,480 1363.3,463.1 1370,441.2 1374.3,423.7 1378.6,401.4 1381,384.4 1382.6,367.4 1383.3,350.7 1383.1,333.8 1382,316.5 1381.1,312.9 1379.7,309.8Z"/><path class="t" d="M1299.4,180.1L1292.1,178.7 1281.6,177.7 1273.9,177.7 1266,178.4 1263.2,179.2 1258.9,181.9 1255.1,186.2 1252.9,189.7 1250.3,195.7 1249.2,200 1248.7,204.3 1248.7,274.5 1249.3,278.4 1250.4,281.8 1252,284.6 1254.1,286.7 1262,287.7 1272.8,290.7 1278.2,292.8 1284.7,296.5 1289.5,300.1 1295.1,305.5 1299.1,310.5 1304.3,318.4 1306.4,320.5 1310.2,319.6 1314.5,316.8 1359.3,277.5 1362.9,272.7 1365.8,266.9 1367.5,260.5 1368.1,256.3 1368,252.1 1367.4,248.3 1366.3,245 1361.8,235.8 1357.6,228.4 1350.5,217.8 1340.5,205.9 1331.9,197.8 1326.3,193.5 1320.2,189.4 1310.3,184.1 1303.7,181.4Z"/><path class="t" d="M1299.4,180.1L1292.1,178.7 1281.6,177.7 1273.9,177.7 1266,178.4 1263.2,179.2 1258.9,181.9 1255.1,186.2 1252.9,189.7 1250.3,195.7 1249.2,200 1248.7,204.3 1248.7,274.5 1249.3,278.4 1250.4,281.8 1252,284.6 1253.4,286.2 1261.4,287.3 1273,290.8 1278.2,292.8 1284.7,296.5 1289.5,300.1 1295.2,305.7 1299.1,310.5 1305.4,319.6 1309.3,318.1 1312.1,316.1 1356.9,276.8 1360.5,272 1363.4,266.2 1365.1,259.8 1365.7,253.4 1365.4,249.4 1364.5,245.8 1357.3,231.3 1348.3,217.3 1340.5,207.8 1332.3,199.6 1326.9,195 1320.9,190.6 1311.2,184.9 1304.7,181.9Z"/><path class="t" d="M1213.2,200.1L1209.8,200.8 1207,202.3 1195,211.2 1184.2,220.6 1170.5,234.3 1160.3,246 1150.6,258.6 1141.4,271.9 1132.7,286.1 1124.2,301.3 1114.5,321.5 1107.7,338 1100.5,358.4 1099.4,364.8 1099.3,369 1099.9,372.9 1101.6,377.8 1103.4,380.3 1105,381.7 1147.3,384.5 1151.6,383.8 1155.9,381.2 1159.8,377 1162.1,373.5 1172.3,351.2 1177.9,341.2 1184.2,331.6 1194.6,318.4 1201.7,311 1209.6,304 1213.3,299.2 1215.4,295.5 1217,291.3 1218.1,287 1218.7,282.6 1218.8,214.4 1218.2,208.6 1217.1,205.2 1214.5,201.2Z"/><path class="t" d="M1211.9,200.2L1208.4,201.4 1206.1,202.9 1191.7,213.9 1180.6,224 1170.1,234.7 1160,246.4 1150.3,259 1141.1,272.4 1132.7,286.1 1124.2,301.3 1114.5,321.5 1107.7,338 1101.1,356.3 1100,360.5 1099.4,364.8 1099.5,371 1100.9,376.3 1102.5,379.2 1104.2,381.1 1144.9,383.7 1149.2,383 1153.5,380.5 1157.4,376.3 1159.7,372.8 1169.9,350.5 1175.5,340.5 1181.8,330.9 1192.2,317.7 1199.3,310.3 1207.2,303.2 1210.9,298.5 1213,294.7 1215.2,288.4 1216.1,284.1 1216.4,279.8 1216.3,211.7 1215.8,207.8 1214.7,204.5 1213.1,201.6Z"/><path class="k" d="M1082.8,445.3L1083.4,441 1084.5,436.6 1086.2,432.5 1088.3,428.8 1090.7,425.5 1093.4,422.9 1096.2,421 1099.1,419.9 1102,419.7 1146.8,422.7 1149.3,423.7 1151.5,425.6 1153.3,428.2 1154.6,431.5 1155.6,437.3 1155.6,448.6 1156.4,459.4 1159,475.2 1161.7,484.9 1165.1,493.9 1168.1,500.4 1174,510.5 1175.3,516 1175.4,522.2 1174.2,528.7 1172.7,532.9 1145,599.2 1142.8,602.8 1140.4,606 1136.3,609.5 1133.4,611 1129.2,611.5 1126.6,610.8 1124.2,609.4 1119.1,603.4 1112.2,593.8 1107.7,586.2 1101.7,574.6 1096.5,562.1 1092.1,549.2 1089.4,539.4 1086.4,525.4 1084.6,514.9 1082.9,499.8 1082.1,488.7 1081.7,472.9 1081.9,461.3Z"/><path class="k" d="M1171.2,639.3L1168.7,638.2 1166.6,636.3 1164.8,633.7 1163.6,630.5 1162.8,626.7 1162.7,622.6 1163.1,618.3 1164,614 1165.5,609.8 1192.3,545.5 1194.3,541.6 1196.6,538.1 1200.6,534.1 1204.9,531.7 1207.8,531.1 1215,531.5 1222.7,530.9 1230.6,529.1 1238.6,526.1 1244.5,523.2 1250.4,519.6 1258,514.1 1265.2,507.9 1269.6,505.5 1272.4,505 1275.2,505.3 1278.7,507.4 1280.7,509.8 1307.5,552.3 1309.5,557.1 1310.2,560.8 1310.3,565 1309.4,571.4 1308.2,575.7 1306.4,579.7 1303.1,585 1295.9,592.6 1288.5,599.7 1278,608.8 1270.6,614.5 1255.3,624.5 1247.7,628.6 1236.7,633.7 1228.7,636.6 1221.1,638.9 1210.2,641.1 1202.8,642 1195.4,642.4 1187.8,642.1 1180.6,641.3Z"/><path class="k" d="M1300.3,481.3L1298.8,478.3 1297.9,474.7 1297.5,470.7 1297.9,464.3 1299.7,457.9 1303.9,447.6 1307.9,436.4 1312.8,418.4 1315.1,406.5 1316.6,394.9 1317.4,383.2 1317.4,371.8 1317.9,367.4 1318.9,363 1321.5,356.8 1324.9,351.6 1327.6,348.8 1372.4,309.7 1375.3,308 1378.2,307.2 1381,307.2 1383.6,308.1 1385.8,309.8 1387.7,312.2 1389.6,317.1 1390.6,326 1391.3,341.6 1391.1,358.7 1390.1,375.5 1388.3,392.5 1385.7,409.6 1382.2,426.7 1378.1,443.1 1373.1,460 1369.2,471.6 1363,487.9 1356.1,503.8 1348.8,518.5 1345.2,523.4 1341,526.8 1336.7,528.4 1332.6,528.2 1329,526.2 1327.1,523.8Z"/><path class="k" d="M1248.6,206.4L1249.2,200 1250.3,195.7 1251.9,191.6 1253.9,187.9 1256.3,184.6 1258.9,181.9 1261.7,179.9 1264.6,178.7 1273.9,177.7 1281.3,177.7 1288.5,178.2 1295.6,179.3 1302.5,180.9 1309.3,183.1 1315.9,185.8 1322.4,189.1 1328.6,192.9 1334.6,197.2 1340.3,202 1345.9,207.4 1351.1,213.2 1356.3,219.8 1365.3,233.8 1371.9,246.7 1373,250 1373.6,253.8 1373.7,258 1373.1,262.3 1371.4,268.6 1369.6,272.6 1366.2,277.8 1363.5,280.5 1318.7,319.6 1315.8,321.3 1312.9,322.1 1310.1,322.1 1307.6,321.2 1304.3,318.4 1299.1,310.5 1295.1,305.5 1289.5,300.1 1284.8,296.6 1278.2,292.8 1272.8,290.7 1265.7,289.1 1256.5,288 1253,285.8 1251.1,283.3 1249.3,278.4 1248.6,272.4Z"/><path class="k" d="M1109.4,383.4L1106.8,382.8 1104.5,381.3 1102.5,379.2 1100.3,374.7 1099.5,371 1099.3,366.9 1099.6,362.7 1100.5,358.4 1107.7,338 1116.7,316.7 1124.5,300.9 1135.2,281.7 1144.4,267.4 1156.7,250.5 1167,238.1 1180.6,224 1195,211.2 1207,202.3 1209.8,200.8 1212.7,200.1 1215.4,200.2 1217.9,201.2 1220.1,202.9 1222.7,206.9 1223.8,210.3 1224.4,216.2 1224.3,284.3 1223.7,288.7 1222.6,293 1221,297.2 1218.9,301 1215.2,305.7 1207.3,312.7 1200.2,320.1 1189.8,333.3 1183.5,342.9 1177.9,352.9 1167.7,375.2 1165.4,378.7 1161.5,382.9 1157.2,385.5 1152.9,386.2Z"/><path class="k" d="M1102,419.7L1099.1,419.9 1096.2,421 1093.4,422.9 1090.7,425.5 1088.3,428.8 1086.2,432.5 1084.5,436.6 1083.4,441 1082.1,455.8 1081.7,472.4 1082.1,488.7 1083.3,504.6 1085.4,519.9 1088.3,534.7 1092,548.8 1096.5,562.1 1101.7,574.6 1107.7,586.2 1114.3,596.9 1120.2,604.7 1123.1,602.5 1125.7,599.6 1128,596.2 1129.9,592.3 1157.5,525.9 1159.1,519.5 1159.5,515.2 1159.3,511.1 1158.6,507.4 1157.3,504.1 1152.1,495.5 1148.2,487.1 1145.7,480.3 1143.7,473 1141.5,462.8 1140.4,454.6 1139.6,443.7 1139.4,430.4 1138.1,424.9 1136.5,421.9Z"/><path class="k" d="M1266.2,507.2L1258.2,514 1252.2,518.4 1244.5,523.2 1238.6,526.1 1230.6,529.1 1222.7,530.9 1215,531.5 1207.8,531.1 1204.9,531.7 1200.6,534.1 1196.6,538.1 1194.3,541.6 1192.3,545.5 1165.5,609.8 1164,614 1162.8,620.5 1162.8,626.7 1164.1,632.1 1165.6,635.1 1167,636.7 1175.4,637.4 1182.7,637.4 1190.1,636.8 1197.6,635.7 1205.1,634 1212.7,631.7 1227.9,625.6 1243,617.4 1258.3,606.8 1272.8,594.5 1287.1,580.1 1290.4,574.8 1292.2,570.8 1293.4,566.6 1294.3,560.1 1294.2,556 1293.5,552.2 1291.5,547.4Z"/><path class="k" d="M1372.7,309.5L1326.2,350.1 1323.7,353.2 1321.5,356.8 1319.7,360.9 1318.4,365.2 1317.4,371.8 1317.4,383.2 1316.6,394.6 1314,412.7 1311.3,424.6 1307.9,436.1 1304.9,445 1299,460 1297.9,464.3 1297.5,470.7 1298.3,476.5 1300.3,481.3 1325.6,521.5 1329.2,518.5 1332.8,513.6 1340.1,498.9 1347.2,482.5 1353.2,466.7 1358.7,450 1362.1,438.2 1366.3,421.2 1369.7,404.7 1372.3,387.6 1373.7,375.7 1374.9,359.4 1375.3,342.7 1374.9,326.4 1374,314 1373.1,310.4Z"/><path class="k" d="M1295.9,179.3L1288.8,178.2 1281.3,177.7 1273.9,177.7 1264.6,178.7 1260.3,180.8 1257.6,183.2 1255.1,186.2 1252.9,189.7 1250.3,195.7 1249.2,200 1248.7,204.3 1248.7,274.5 1249.8,280.1 1252,284.6 1258.6,286.5 1264,288.8 1269.4,289.8 1274.6,291.3 1283,295.4 1287.9,298.8 1293.7,304 1297.9,308.8 1302.2,315.1 1347.5,275.6 1350.2,272.9 1353.6,267.7 1356.1,261.7 1357.5,255.2 1357.6,249 1357,245.1 1355.9,241.8 1349.1,228.5 1340.3,214.9 1332.8,205.6 1324.3,197.1 1315.6,190.1 1306.4,184.2 1300.3,181.1Z"/><path class="k" d="M1206.8,202.4L1195.4,210.9 1187.8,217.3 1177.1,227.4 1167,238.1 1160,246.4 1150.3,259 1141.1,272.4 1132.7,286.1 1124.2,301.3 1114.5,321.5 1107.7,338 1101.1,356.3 1099.6,362.7 1099.3,369 1100.3,374.7 1102.4,379.1 1138.3,381.3 1142.6,379.9 1145.5,378 1149.4,373.8 1151.7,370.3 1161.9,348.1 1167.5,338 1173.8,328.4 1184,315.4 1191.3,307.8 1199.2,300.8 1201.7,297.8 1204,294.2 1205.9,290.2 1207.2,286 1208.1,281.6 1208.4,277.3 1208.4,211.3 1207.8,205.4Z"/><path class="bk" d="M1230.1,205.1L1242.9,199.9 1242.9,166.2 1230.1,171.3Z"/><path class="h2 w" d="M1232.5,205.8L1245.3,200.6 1245.3,166.9 1232.5,172.1Z"/><path class="k" d="M1242.7,182.4L1242.4,180.5 1241.6,179 1240.4,178.3 1238.9,178.5 1237.4,179.5 1236.2,181.2 1235.4,183.3 1235.1,185.5 1235.4,187.5 1236.2,189 1237.4,189.7 1238.9,189.5 1240.4,188.5 1241.6,186.8 1242.4,184.7Z"/><path class="bk" d="M1240.8,183.2L1240.5,181.9 1239.9,181.2 1238.9,181.2 1237.9,182 1237.3,183.3 1237,184.8 1237.3,186 1237.9,186.7 1238.9,186.7 1239.9,186 1240.5,184.7Z"/><path class="bk" d="M1248.6,251.7L1248.4,248.8 1247.5,246.2 1246.2,244.3 1244.6,243.1 1242.6,242.8 1240.5,243.2 1238.4,244.5 1236.4,246.4 1234.8,249 1233.5,251.9 1232.6,255.1 1232.4,258.3 1232.6,261.2 1233.5,263.7 1234.8,265.6 1236.4,266.8 1238.4,267.2 1240.5,266.7 1242.6,265.5 1244.6,263.5 1246.2,261 1247.5,258 1248.4,254.8Z"/><path class="k w" d="M1246.3,253.8L1245.9,251.6 1245,250 1243.7,249.3 1242.1,249.5 1240.5,250.6 1239.2,252.4 1238.3,254.7 1237.9,257.1 1238.3,259.3 1239.2,260.9 1240.5,261.6 1242.1,261.5 1243.7,260.4 1245,258.5 1245.9,256.2Z"/><path class="t w" d="M1242.7,254.1L1242.4,252.6 1241.6,251.7 1240.5,251.7 1239.4,252.6 1238.6,254.1 1238.3,255.9 1238.6,257.4 1239.4,258.2 1240.5,258.2 1241.6,257.3 1242.4,255.8Z"/><path class="bk" d="M1371.1,282.6L1375,298.6 1397.3,279.2 1393.3,263.2Z"/><path class="h2 w" d="M1373.5,283.4L1377.4,299.4 1399.7,279.9 1395.7,263.9Z"/><path class="k" d="M1391.9,278.7L1391.6,276.8 1390.8,275.3 1389.6,274.6 1388.1,274.8 1386.7,275.8 1385.4,277.5 1384.6,279.6 1384.3,281.8 1384.6,283.8 1385.4,285.3 1386.7,286 1388.1,285.8 1389.6,284.8 1390.8,283.1 1391.6,281Z"/><path class="bk" d="M1390,279.5L1389.8,278.2 1389.1,277.5 1388.1,277.5 1387.2,278.3 1386.5,279.6 1386.2,281 1386.5,282.3 1387.2,283 1388.1,283 1389.1,282.3 1389.8,281Z"/><path class="bk" d="M1351.5,318L1351.2,315.1 1350.4,312.6 1349.1,310.7 1347.4,309.5 1345.4,309.1 1343.3,309.6 1341.2,310.8 1339.3,312.8 1337.6,315.3 1336.3,318.3 1335.5,321.5 1335.2,324.6 1335.5,327.5 1336.3,330.1 1337.6,332 1339.3,333.1 1341.2,333.5 1343.3,333.1 1345.4,331.8 1347.4,329.9 1349.1,327.3 1350.4,324.4 1351.2,321.2Z"/><path class="k w" d="M1349.1,320.1L1348.8,318 1347.9,316.4 1346.5,315.6 1344.9,315.8 1343.3,316.9 1342,318.8 1341.1,321.1 1340.8,323.5 1341.1,325.7 1342,327.2 1343.3,328 1344.9,327.8 1346.5,326.7 1347.9,324.9 1348.8,322.6Z"/><path class="t w" d="M1345.6,320.4L1345.3,318.9 1344.5,318.1 1343.3,318.1 1342.2,319 1341.4,320.5 1341.1,322.2 1341.4,323.7 1342.2,324.6 1343.3,324.6 1344.5,323.7 1345.3,322.2Z"/><path class="bk" d="M1326.1,536.2L1315.7,551.3 1329.4,573 1339.8,557.9Z"/><path class="h2 w" d="M1328.5,536.9L1318.1,552 1331.8,573.7 1342.2,558.7Z"/><path class="k" d="M1334.9,555.3L1334.6,553.3 1333.8,551.9 1332.6,551.2 1331.1,551.4 1329.7,552.4 1328.4,554.1 1327.6,556.2 1327.3,558.4 1327.6,560.4 1328.4,561.8 1329.7,562.5 1331.1,562.4 1332.6,561.4 1333.8,559.7 1334.6,557.5Z"/><path class="bk" d="M1333,556.1L1332.8,554.8 1332.1,554.1 1331.1,554.1 1330.2,554.9 1329.5,556.1 1329.2,557.6 1329.5,558.9 1330.2,559.6 1331.1,559.6 1332.1,558.9 1332.8,557.6Z"/><path class="bk" d="M1312.2,508.6L1311.9,505.7 1311.1,503.2 1309.8,501.3 1308.1,500.1 1306.2,499.7 1304.1,500.2 1301.9,501.4 1300,503.4 1298.3,505.9 1297,508.9 1296.2,512.1 1295.9,515.2 1296.2,518.1 1297,520.6 1298.3,522.5 1300,523.7 1301.9,524.1 1304.1,523.7 1306.2,522.4 1308.1,520.4 1309.8,517.9 1311.1,514.9 1311.9,511.8Z"/><path class="k w" d="M1309.8,510.7L1309.5,508.6 1308.6,507 1307.2,506.2 1305.7,506.4 1304.1,507.5 1302.7,509.3 1301.8,511.7 1301.5,514.1 1301.8,516.2 1302.7,517.8 1304.1,518.6 1305.7,518.4 1307.2,517.3 1308.6,515.5 1309.5,513.1Z"/><path class="t w" d="M1306.3,511L1306,509.5 1305.2,508.6 1304.1,508.7 1302.9,509.6 1302.1,511.1 1301.8,512.8 1302.1,514.3 1302.9,515.2 1304.1,515.2 1305.2,514.3 1306,512.8Z"/><path class="bk" d="M1157.3,615.4L1146.9,608.7 1133.2,641.5 1143.6,648.2Z"/><path class="h2 w" d="M1159.7,616.1L1149.3,609.4 1135.6,642.3 1146,649Z"/><path class="k" d="M1150.5,630L1150.2,628 1149.4,626.5 1148.1,625.8 1146.7,626 1145.2,627 1144,628.7 1143.2,630.8 1142.9,633 1143.2,635 1144,636.5 1145.2,637.2 1146.7,637 1148.1,636 1149.4,634.3 1150.2,632.2Z"/><path class="bk" d="M1148.6,630.7L1148.3,629.5 1147.6,628.7 1146.7,628.7 1145.7,629.5 1145,630.8 1144.8,632.3 1145,633.5 1145.7,634.3 1146.7,634.2 1147.6,633.5 1148.3,632.2Z"/><path class="bk" d="M1185.1,560.1L1184.8,557.1 1184,554.6 1182.7,552.7 1181,551.5 1179.1,551.1 1176.9,551.6 1174.8,552.8 1172.9,554.8 1171.2,557.4 1169.9,560.3 1169.1,563.5 1168.8,566.6 1169.1,569.6 1169.9,572.1 1171.2,574 1172.9,575.2 1174.8,575.5 1176.9,575.1 1179.1,573.8 1181,571.9 1182.7,569.3 1184,566.4 1184.8,563.2Z"/><path class="k w" d="M1182.7,562.2L1182.4,560 1181.5,558.4 1180.1,557.6 1178.5,557.8 1177,558.9 1175.6,560.8 1174.7,563.1 1174.4,565.5 1174.7,567.7 1175.6,569.3 1177,570 1178.5,569.8 1180.1,568.7 1181.5,566.9 1182.4,564.6Z"/><path class="t w" d="M1179.2,562.4L1178.9,560.9 1178.1,560.1 1176.9,560.1 1175.8,561 1175,562.5 1174.7,564.3 1175,565.8 1175.8,566.6 1176.9,566.6 1178.1,565.7 1178.9,564.2Z"/><path class="bk" d="M1098,410.7L1101.9,391.5 1079.7,390.1 1075.7,409.3Z"/><path class="h2 w" d="M1100.4,411.5L1104.3,392.3 1082.1,390.8 1078.1,410Z"/><path class="k" d="M1093.5,399.5L1093.2,397.5 1092.4,396.1 1091.1,395.4 1089.7,395.5 1088.2,396.6 1087,398.2 1086.2,400.4 1085.9,402.6 1086.2,404.6 1087,406 1088.2,406.7 1089.7,406.5 1091.1,405.5 1092.4,403.8 1093.2,401.7Z"/><path class="bk" d="M1091.6,400.3L1091.3,399 1090.6,398.3 1089.7,398.3 1088.7,399 1088,400.3 1087.8,401.8 1088,403.1 1088.7,403.8 1089.7,403.8 1090.6,403 1091.3,401.8Z"/><path class="bk" d="M1145.8,401.3L1145.5,398.3 1144.7,395.8 1143.4,393.9 1141.7,392.7 1139.8,392.3 1137.7,392.8 1135.6,394 1133.6,396 1131.9,398.6 1130.6,401.5 1129.8,404.7 1129.5,407.8 1129.8,410.8 1130.6,413.3 1131.9,415.2 1133.6,416.4 1135.6,416.7 1137.7,416.3 1139.8,415 1141.7,413.1 1143.4,410.5 1144.7,407.6 1145.5,404.4Z"/><path class="k w" d="M1143.4,403.4L1143.1,401.2 1142.2,399.6 1140.9,398.8 1139.3,399 1137.7,400.1 1136.3,402 1135.4,404.3 1135.1,406.7 1135.4,408.9 1136.3,410.5 1137.7,411.2 1139.3,411 1140.9,409.9 1142.2,408.1 1143.1,405.8Z"/><path class="t w" d="M1139.9,403.6L1139.6,402.1 1138.8,401.3 1137.7,401.3 1136.5,402.2 1135.7,403.7 1135.4,405.5 1135.7,407 1136.5,407.8 1137.7,407.8 1138.8,406.9 1139.6,405.4Z"/><path class="k w" d="M1331.3,378.8L1331.2,372.4 1330.8,366.1 1330.2,360 1329.4,354 1328.4,348.2 1327.1,342.6 1325.6,337.1 1323.9,331.9 1322,326.9 1319.9,322.1 1317.6,317.6 1315.1,313.3 1312.4,309.3 1309.5,305.6 1306.4,302.2 1303.2,299.1 1299.8,296.3 1296.3,293.8 1292.7,291.6 1288.9,289.8 1285,288.3 1281,287.2 1276.9,286.4 1272.7,285.9 1268.4,285.8 1264.1,286.1 1259.8,286.7 1255.4,287.6 1250.9,288.9 1246.5,290.6 1242.1,292.5 1237.6,294.8 1233.2,297.4 1228.9,300.4 1224.6,303.6 1220.3,307.1 1216.1,311 1212,315.1 1208,319.5 1204.1,324.1 1200.3,329 1196.7,334.1 1193.2,339.4 1189.8,345 1186.6,350.7 1183.5,356.6 1180.6,362.6 1177.9,368.8 1175.4,375.1 1173.1,381.5 1171,388 1169.1,394.6 1167.4,401.2 1165.9,407.8 1164.6,414.5 1163.6,421.1 1162.8,427.8 1162.2,434.4 1161.8,440.9 1161.7,447.4 1161.8,453.7 1162.2,460 1162.8,466.1 1163.6,472.1 1164.6,477.9 1165.9,483.5 1167.4,489 1169.1,494.2 1171,499.2 1173.1,504 1175.4,508.5 1177.9,512.8 1180.6,516.8 1183.5,520.5 1186.6,523.9 1189.8,527 1193.2,529.8 1196.7,532.3 1200.3,534.5 1204.1,536.3 1208,537.8 1212,538.9 1216.1,539.7 1220.3,540.2 1224.6,540.3 1228.9,540 1233.2,539.4 1237.6,538.5 1242.1,537.2 1246.5,535.5 1250.9,533.6 1255.4,531.3 1259.8,528.7 1264.1,525.7 1268.4,522.5 1272.7,519 1276.9,515.1 1281,511 1285,506.6 1288.9,502 1292.7,497.1 1296.3,492 1299.8,486.7 1303.2,481.1 1306.4,475.4 1309.5,469.5 1312.4,463.5 1315.1,457.3 1317.6,451 1319.9,444.6 1322,438.1 1323.9,431.5 1325.6,424.9 1327.1,418.3 1328.4,411.6 1329.4,405 1330.2,398.3 1330.8,391.7 1331.2,385.2Z"/></g><g id="br"><path class="k w" d="M1278.8,401.4L1278.6,396.9 1278.1,392.6 1277.3,388.5 1276.2,384.7 1274.7,381.2 1273,378 1271,375.3 1268.8,373 1266.3,371.1 1263.6,369.6 1260.8,368.7 1257.9,368.3 1254.8,368.3 1251.7,368.9 1248.5,369.9 1245.3,371.4 1242.2,373.4 1239.1,375.8 1236.2,378.7 1233.4,381.9 1230.7,385.5 1228.2,389.3 1226,393.5 1224,397.9 1222.3,402.4 1220.8,407.1 1219.7,411.8 1218.9,416.5 1218.4,421.3 1218.2,425.9 1218.4,430.4 1218.9,434.7 1219.7,438.8 1220.8,442.6 1222.3,446.1 1224,449.3 1226,452 1228.2,454.4 1230.7,456.3 1233.4,457.7 1236.2,458.6 1239.1,459.1 1242.2,459 1245.3,458.5 1248.5,457.4 1251.7,455.9 1254.8,453.9 1257.9,451.5 1260.8,448.6 1263.6,445.4 1266.3,441.9 1268.8,438 1271,433.8 1273,429.5 1274.7,424.9 1276.2,420.3 1277.3,415.5 1278.1,410.8 1278.6,406.1Z"/><path class="k" d="M1259.6,368.4L1257.3,367.6 1254.9,367.1 1252.3,367 1249.8,367.2 1247.1,367.8 1244.5,368.7 1241.9,369.9 1239.2,371.5 1236.7,373.4 1234.1,375.5 1231.7,378 1229.4,380.7 1227.1,383.6 1225,386.8 1223.1,390.2 1221.3,393.7 1219.7,397.4 1218.3,401.2 1217.1,405.1 1216.1,409 1215.3,412.9 1214.7,416.9 1214.3,420.8 1214.2,424.7 1214.3,428.5 1214.7,432.1 1215.3,435.6 1216.1,438.9 1217.1,442 1218.3,444.9 1219.7,447.6 1221.3,449.9 1223.1,452 1225,453.8 1227.1,455.3 1229.4,456.5 1231.7,457.3 1234.1,457.7 1236.7,457.9 1239.2,457.7"/><ellipse class="bk" cx="1201" cy="729.5" rx="12.5" ry="4.6"/><path class="h2 w" d="M1190.7,730.6L1190.7,739.6 1194,743.6 1204.2,744.5 1211.3,741.4 1211.3,732.4Z"/><path class="h2 w" d="M1211.3,732.4L1204.2,735.5 1194,734.6 1190.7,730.6 1197.8,727.5 1208,728.4Z"/><path class="t" d="M1194,734.6L1194,743.6"/><path class="t" d="M1204.2,735.5L1204.2,744.5"/><path class="h2 w" d="M1193,742.5A8,3.5 0 0 0 1209,742.5L1209,739.5L1193,739.5Z"/><path class="h2 w" d="M1195,746A6,2.6 0 0 0 1207,746L1207,743.5L1195,743.5Z"/><ellipse class="bk" cx="1277.3" cy="697" rx="12.5" ry="4.6"/><path class="h2 w" d="M1267,698.1L1267,707.1 1270.3,711.1 1280.5,712 1287.6,708.9 1287.6,699.9Z"/><path class="h2 w" d="M1287.6,699.9L1280.5,703 1270.3,702.1 1267,698.1 1274.1,695 1284.3,695.9Z"/><path class="t" d="M1270.3,702.1L1270.3,711.1"/><path class="t" d="M1280.5,703L1280.5,712"/><path class="h2 w" d="M1269.3,710A8,3.5 0 0 0 1285.3,710L1285.3,707L1269.3,707Z"/><path class="h2 w" d="M1271.3,713.5A6,2.6 0 0 0 1283.3,713.5L1283.3,711L1271.3,711Z"/><path class="k w" d="M1175.9,714.5L1175.9,720.2L1202.7,727.6Q1207,728 1209,725.5L1209,718Z"/><path class="k w" d="M1175.9,714.5L1203.6,725.4L1206,724L1206,702L1189,709Z"/><ellipse class="bk" cx="1197.5" cy="711.1" rx="11" ry="4.4"/><path class="k w" d="M1187.9,702.3L1187.9,708.7 1191.2,712.5 1200.8,713.2 1207.1,710.1 1207.1,703.7Z"/><path class="k w" d="M1207.1,703.7L1200.8,706.9 1191.2,706.1 1187.9,702.3 1194.2,699.1 1203.8,699.9Z"/><path class="t" d="M1191.2,706.1L1191.2,712.5"/><path class="t" d="M1200.8,706.9L1200.8,713.2"/><path class="k w" d="M1210.9,716.4L1307.5,676.7Q1310,681.5 1305.5,685.5L1209,725.5Q1205.5,722 1205.2,716Z"/><path class="k w" d="M1309.1,402.6L1303.3,400.8 1278.5,373.2 1276.9,371.5 1275.1,370 1273.3,368.8 1271.3,367.8 1269.3,367 1267.1,366.5 1265,366.2 1262.7,366.2 1260.5,366.4 1258.2,366.9 1255.9,367.6 1253.5,368.5 1251.2,369.7 1248.9,371.1 1246.7,372.7 1244.4,374.5 1242.3,376.6 1240.1,378.8 1238.1,381.2 1236.1,383.8 1234.3,386.6 1232.5,389.5 1230.9,392.5 1206.1,440.2 1205.1,716.5 1206.5,722 1211.9,716.7Z"/><path class="k w" d="M1309.1,677.4L1309.1,402.6 1284.3,375 1282.7,373.3 1280.9,371.8 1279.1,370.6 1277.1,369.6 1275.1,368.8 1272.9,368.3 1270.8,368 1268.5,368 1266.3,368.2 1264,368.7 1261.7,369.4 1259.3,370.3 1257,371.5 1254.7,372.9 1252.5,374.5 1250.2,376.3 1248.1,378.4 1245.9,380.6 1243.9,383 1241.9,385.6 1240.1,388.4 1238.3,391.3 1236.7,394.3 1211.9,442 1211.9,716.7Z"/><path class="t2" d="M1211.9,442L1206.1,440.2"/><path class="bk" d="M1276.8,409L1276.6,404.9 1275.9,401.1 1274.7,397.6 1273.2,394.6 1271.3,392.2 1269.1,390.3 1266.6,389.1 1263.9,388.6 1261,388.7 1258.1,389.6 1255.2,391.1 1252.3,393.2 1249.6,396 1247.1,399.2 1244.9,402.8 1243,406.8 1241.5,411.1 1240.3,415.4 1239.6,419.8 1239.4,424.1 1239.6,428.3 1240.3,432.1 1241.5,435.6 1243,438.6 1244.9,441 1247.1,442.9 1249.6,444.1 1252.3,444.6 1255.2,444.4 1258.1,443.6 1261,442.1 1263.9,439.9 1266.6,437.2 1269.1,434 1271.3,430.3 1273.2,426.3 1274.7,422.1 1275.9,417.7 1276.6,413.3Z"/><path class="k w" d="M1276.5,412L1276.3,408.8 1275.8,405.9 1274.9,403.2 1273.7,400.9 1272.3,399 1270.5,397.6 1268.6,396.7 1266.5,396.3 1264.3,396.4 1262.1,397.1 1259.9,398.2 1257.7,399.9 1255.6,402 1253.7,404.4 1251.9,407.2 1250.5,410.3 1249.3,413.6 1248.4,416.9 1247.9,420.3 1247.7,423.6 1247.9,426.8 1248.4,429.7 1249.3,432.4 1250.5,434.7 1251.9,436.6 1253.7,438 1255.6,438.9 1257.7,439.3 1259.9,439.2 1262.1,438.6 1264.3,437.4 1266.5,435.7 1268.6,433.7 1270.5,431.2 1272.3,428.4 1273.7,425.3 1274.9,422.1 1275.8,418.7 1276.3,415.3Z"/><path class="k w" d="M1283.9,414.3L1283.7,411.1 1283.2,408.1 1282.3,405.5 1281.1,403.2 1279.7,401.3 1277.9,399.9 1276,398.9 1273.9,398.5 1271.7,398.7 1269.5,399.3 1267.3,400.5 1265.1,402.1 1263,404.2 1261.1,406.7 1259.3,409.5 1257.9,412.6 1256.7,415.8 1255.8,419.2 1255.3,422.6 1255.1,425.9 1255.3,429 1255.8,432 1256.7,434.7 1257.9,437 1259.3,438.8 1261.1,440.3 1263,441.2 1265.1,441.6 1267.3,441.5 1269.5,440.8 1271.7,439.7 1273.9,438 1276,435.9 1277.9,433.4 1279.7,430.6 1281.1,427.6 1282.3,424.3 1283.2,421 1283.7,417.6Z"/><path class="h2 w" d="M1282.9,416.1L1282.7,412.7 1281.9,409.7 1280.7,407.2 1279.1,405.3 1277.2,404.1 1275,403.6 1272.7,403.8 1270.3,404.7 1268,406.4 1265.8,408.7 1263.9,411.5 1262.3,414.7 1261.1,418.2 1260.3,421.8 1260.1,425.3 1260.3,428.6 1261.1,431.6 1262.3,434.1 1263.9,436 1265.8,437.3 1268,437.8 1270.3,437.6 1272.7,436.6 1275,434.9 1277.2,432.7 1279.1,429.8 1280.7,426.6 1281.9,423.2 1282.7,419.6Z"/><path class="h2 w" d="M1288.9,417.9L1288.7,414.6 1287.9,411.6 1286.7,409.1 1285.1,407.2 1283.2,405.9 1281,405.4 1278.7,405.6 1276.3,406.6 1274,408.2 1271.8,410.5 1269.9,413.3 1268.3,416.5 1267.1,420 1266.3,423.6 1266.1,427.1 1266.3,430.5 1267.1,433.4 1268.3,435.9 1269.9,437.9 1271.8,439.1 1274,439.6 1276.3,439.4 1278.7,438.4 1281,436.8 1283.2,434.5 1285.1,431.7 1286.7,428.5 1287.9,425 1288.7,421.4Z"/><path class="k w" d="M1288.2,419.6L1288,417.1 1287.4,414.8 1286.5,412.9 1285.3,411.5 1283.8,410.5 1282.2,410.1 1280.4,410.3 1278.6,411 1276.8,412.3 1275.2,414 1273.7,416.2 1272.5,418.6 1271.6,421.2 1271,423.9 1270.8,426.6 1271,429.1 1271.6,431.4 1272.5,433.3 1273.7,434.7 1275.2,435.7 1276.8,436.1 1278.6,435.9 1280.4,435.2 1282.2,433.9 1283.8,432.2 1285.3,430.1 1286.5,427.6 1287.4,425 1288,422.3Z"/><path class="h2 w" d="M1294.2,421.4L1294,418.9 1293.4,416.7 1292.5,414.8 1291.3,413.3 1289.8,412.4 1288.2,412 1286.4,412.1 1284.6,412.9 1282.8,414.1 1281.2,415.9 1279.7,418 1278.5,420.4 1277.6,423.1 1277,425.8 1276.8,428.4 1277,431 1277.6,433.2 1278.5,435.1 1279.7,436.6 1281.2,437.5 1282.8,437.9 1284.6,437.7 1286.4,437 1288.2,435.8 1289.8,434 1291.3,431.9 1292.5,429.5 1293.4,426.8 1294,424.1Z"/><path class="k w" d="M1294.9,422.5L1294.8,420.4 1294.3,418.4 1293.5,416.8 1292.5,415.6 1291.2,414.7 1289.8,414.4 1288.3,414.5 1286.7,415.2 1285.2,416.3 1283.8,417.8 1282.5,419.6 1281.5,421.7 1280.7,423.9 1280.2,426.3 1280.1,428.6 1280.2,430.7 1280.7,432.7 1281.5,434.3 1282.5,435.6 1283.8,436.4 1285.2,436.7 1286.7,436.6 1288.3,435.9 1289.8,434.8 1291.2,433.4 1292.5,431.5 1293.5,429.4 1294.3,427.2 1294.8,424.8Z"/><path class="h2 w" d="M1299.9,424.1L1299.8,421.9 1299.3,420 1298.5,418.3 1297.5,417.1 1296.2,416.3 1294.8,415.9 1293.3,416.1 1291.7,416.7 1290.2,417.8 1288.8,419.3 1287.5,421.1 1286.5,423.2 1285.7,425.5 1285.2,427.8 1285.1,430.1 1285.2,432.3 1285.7,434.2 1286.5,435.8 1287.5,437.1 1288.8,437.9 1290.2,438.2 1291.7,438.1 1293.3,437.5 1294.8,436.4 1296.2,434.9 1297.5,433.1 1298.5,431 1299.3,428.7 1299.8,426.4Z"/><path class="k w" d="M1277.6,381.2L1282.6,382.7A6,9 0 0 1 1282.6,400.7L1277.6,399.2Z"/><ellipse class="k w" cx="1277.6" cy="390.2" rx="5.2" ry="9" transform="rotate(8 1277.6 390.2)"/><ellipse class="bk" cx="1283.6" cy="391.7" rx="5.6" ry="9.2" transform="rotate(8 1283.6 391.7)"/><ellipse class="t w" cx="1283.6" cy="391.7" rx="2" ry="3.4" transform="rotate(8 1283.6 391.7)"/><path class="k w" d="M1237,397.8L1242,399.3A6,9 0 0 1 1242,417.3L1237,415.8Z"/><ellipse class="k w" cx="1237" cy="406.8" rx="5.2" ry="9" transform="rotate(8 1237 406.8)"/><ellipse class="bk" cx="1243" cy="408.3" rx="5.6" ry="9.2" transform="rotate(8 1243 408.3)"/><ellipse class="t w" cx="1243" cy="408.3" rx="2" ry="3.4" transform="rotate(8 1243 408.3)"/><path class="k w" d="M1258.1,440.1L1263.1,441.6A6,9 0 0 1 1263.1,459.6L1258.1,458.1Z"/><ellipse class="k w" cx="1258.1" cy="449.1" rx="5.2" ry="9" transform="rotate(8 1258.1 449.1)"/><ellipse class="bk" cx="1264.1" cy="450.6" rx="5.6" ry="9.2" transform="rotate(8 1264.1 450.6)"/><ellipse class="t w" cx="1264.1" cy="450.6" rx="2" ry="3.4" transform="rotate(8 1264.1 450.6)"/><path class="k w" d="M1283.5,436L1283.5,455.5A10.3,3.6 0 0 0 1304.1,455.5L1304.1,436Z"/><path class="h2 w" d="M1279,415Q1283,404 1295,407Q1305.5,411 1304.2,428L1304.2,441Q1294,446 1283.5,441L1283.5,432Q1278,428 1279,415Z"/><path class="k" d="M1283.5,432Q1294,437 1304.2,430"/><path class="k" d="M1283.5,441Q1294,446 1304.2,440"/><ellipse class="bk" cx="1287.3" cy="428.5" rx="5.2" ry="6.4"/><path class="h2" d="M1281,416Q1290,411 1297,420L1297,438"/></g><g id="hs"><rect class="bk" x="1281.6" y="503" width="23.6" height="48"/><path d="M1285.5,507L1285.5,549" stroke="#fff" stroke-width="1.6" fill="none"/><path d="M1290.5,507L1290.5,549" stroke="#fff" stroke-width="1.6" fill="none"/><path d="M1297.5,507L1297.5,549" stroke="#fff" stroke-width="1.6" fill="none"/><path d="M1301.5,507L1301.5,549" stroke="#fff" stroke-width="1.6" fill="none"/><ellipse class="bk" cx="1293.4" cy="503.5" rx="12.5" ry="4.2"/><path class="k w" d="M1279.3,480L1279.3,498 1281.8,502.3 1295.5,503.8 1306.7,501 1306.7,483Z"/><path class="k w" d="M1306.7,483L1295.5,485.8 1281.8,484.3 1279.3,480 1290.5,477.2 1304.2,478.7Z"/><path class="t" d="M1281.8,484.3L1281.8,502.3"/><path class="t" d="M1295.5,485.8L1295.5,503.8"/><ellipse class="bk" cx="1293" cy="481.5" rx="8.5" ry="2.8"/><path class="k w" d="M1283,501.5Q1293,506.5 1303.5,501.5L1303.5,506Q1293,510 1283,506Z"/><path d="M1294.5,548C1294.5,552 1294.3,563.7 1294.5,572C1294.7,580.3 1294.5,589.3 1295.5,598C1296.5,606.7 1298.2,617 1300.3,624C1302.4,631 1304.7,635.5 1308,640C1311.3,644.5 1315.3,646.8 1320,651C1324.7,655.2 1331.3,660.7 1336,665C1340.7,669.3 1345.1,672.7 1348,677C1350.9,681.3 1352.5,686 1353.5,691C1354.5,696 1354.7,697.2 1353.8,707C1352.9,716.8 1351.1,737.1 1347.9,749.7C1344.8,762.3 1340.4,771.7 1334.9,782.7C1329.4,793.7 1321.7,806.3 1314.8,815.7C1307.9,825.1 1300.7,833 1293.6,839.3C1286.5,845.6 1286.2,845.6 1272.4,853.5C1258.6,861.4 1231.5,875.5 1211,886.5C1190.5,897.5 1162.9,912.5 1149.7,919.6C1136.5,926.7 1135,927.6 1132,929.2" fill="none" stroke="#000" stroke-width="22.2" stroke-linecap="butt"/><path d="M1294.5,548C1294.5,552 1294.3,563.7 1294.5,572C1294.7,580.3 1294.5,589.3 1295.5,598C1296.5,606.7 1298.2,617 1300.3,624C1302.4,631 1304.7,635.5 1308,640C1311.3,644.5 1315.3,646.8 1320,651C1324.7,655.2 1331.3,660.7 1336,665C1340.7,669.3 1345.1,672.7 1348,677C1350.9,681.3 1352.5,686 1353.5,691C1354.5,696 1354.7,697.2 1353.8,707C1352.9,716.8 1351.1,737.1 1347.9,749.7C1344.8,762.3 1340.4,771.7 1334.9,782.7C1329.4,793.7 1321.7,806.3 1314.8,815.7C1307.9,825.1 1300.7,833 1293.6,839.3C1286.5,845.6 1286.2,845.6 1272.4,853.5C1258.6,861.4 1231.5,875.5 1211,886.5C1190.5,897.5 1162.9,912.5 1149.7,919.6C1136.5,926.7 1135,927.6 1132,929.2" fill="none" stroke="#fff" stroke-width="17.8" stroke-linecap="butt"/><path class="k" d="M1301,646.5Q1310.5,651 1314.5,643.5Q1317.5,637 1312.5,631"/><path class="k" d="M1342.5,689.5Q1351.5,693.5 1358.5,688Q1364,682 1359.5,674.5"/><path class="k" d="M1267,844.5Q1275,852 1277.5,863.5"/><path class="k" d="M1284.8,561Q1294,565 1304.5,560.5"/><path d="M1294.5,548C1294.5,552 1294.3,563.7 1294.5,572C1294.7,580.3 1294.5,589.3 1295.5,598C1296.5,606.7 1298.2,617 1300.3,624C1302.4,631 1304.7,635.5 1308,640C1311.3,644.5 1315.3,646.8 1320,651C1324.7,655.2 1331.3,660.7 1336,665C1340.7,669.3 1345.1,672.7 1348,677C1350.9,681.3 1352.5,686 1353.5,691C1354.5,696 1354.7,697.2 1353.8,707C1352.9,716.8 1351.1,737.1 1347.9,749.7C1344.8,762.3 1340.4,771.7 1334.9,782.7C1329.4,793.7 1321.7,806.3 1314.8,815.7C1307.9,825.1 1300.7,833 1293.6,839.3C1286.5,845.6 1286.2,845.6 1272.4,853.5C1258.6,861.4 1231.5,875.5 1211,886.5C1190.5,897.5 1162.9,912.5 1149.7,919.6C1136.5,926.7 1135,927.6 1132,929.2" fill="none" stroke="#000" stroke-width="0.9" stroke-dasharray="22 5 4 5"/><path d="M1148.5,920.4L1118,937" fill="none" stroke="#000" stroke-width="27" stroke-linecap="butt"/><path d="M1145.7,913.4L1125.7,924.2" fill="none" stroke="#fff" stroke-width="2"/><path d="M1150.3,917.7L1131,928.1" fill="none" stroke="#fff" stroke-width="2"/><path d="M1150.1,925.7L1132.6,935.2" fill="none" stroke="#fff" stroke-width="2"/><path d="M1132.7,938Q1135.6,943.3 1130.8,946.2Q1131,952.5 1125.5,952.3Q1122.9,957.8 1118.2,954.5Q1113.5,957.8 1110.9,952.3Q1105.4,952.5 1105.6,946.2Q1100.8,943.3 1103.7,938Q1100.8,932.7 1105.6,929.8Q1105.4,923.5 1110.9,923.7Q1113.5,918.2 1118.2,921.5Q1122.9,918.2 1125.5,923.7Q1131,923.5 1130.8,929.8Q1135.6,932.7 1132.7,938Z" fill="#000" stroke="#000" stroke-width="2"/><path d="M1100.7,928.3L1114.2,921L1124.2,954L1110.7,961.8Z" fill="#000" stroke="#000" stroke-width="2"/><path d="M1111.7,931.3L1119.7,927" fill="none" stroke="#fff" stroke-width="1.8"/><path d="M1116.2,939.3L1124.2,935" fill="none" stroke="#fff" stroke-width="1.8"/><path d="M1117.7,948.3L1125.7,944" fill="none" stroke="#fff" stroke-width="1.8"/><path d="M1119,945.3Q1122,950.6 1117,953.4Q1117.3,959.7 1111.8,959.3Q1109.3,964.9 1104.7,961.5Q1100.1,964.9 1097.6,959.3Q1092.1,959.7 1092.4,953.4Q1087.4,950.6 1090.4,945.3Q1087.4,940 1092.4,937.2Q1092.1,930.9 1097.6,931.3Q1100.1,925.7 1104.7,929.1Q1109.3,925.7 1111.8,931.3Q1117.3,930.9 1117,937.2Q1122,940 1119,945.3Z" fill="#fff" stroke="#000" stroke-width="2.4"/><path d="M1115,949.9L1106.6,958.6 1096.3,954 1094.4,940.7 1102.8,932 1113.1,936.6Z" fill="#000" stroke="#000" stroke-width="1.5" stroke-linejoin="round"/><ellipse cx="1104.7" cy="945.3" rx="2.7" ry="3.1" fill="#fff"/></g><g id="kn"><ellipse class="k w" cx="1228" cy="534.5" rx="14.5" ry="27.5" transform="rotate(14 1228 534.5)"/><ellipse class="k w" cx="1232" cy="535.5" rx="14.5" ry="27.5" transform="rotate(14 1232 535.5)"/><ellipse class="k w" cx="1238" cy="537" rx="11" ry="22" transform="rotate(14 1238 537)"/><ellipse class="k w" cx="1243" cy="538.5" rx="9" ry="19" transform="rotate(14 1243 538.5)"/><ellipse class="k w" cx="1247" cy="539.5" rx="8" ry="17" transform="rotate(14 1247 539.5)"/><ellipse class="bk" cx="1239" cy="515" rx="5.5" ry="5.5"/><ellipse class="k w" cx="1234.5" cy="514.5" rx="4.5" ry="5"/><ellipse class="k w" cx="1237" cy="556" rx="3.5" ry="4.5"/><ellipse class="k w" cx="1233.5" cy="555.5" rx="3.2" ry="4.5"/><path class="bk" d="M1258,516.5L1270,513.5L1270,577L1259,571Z"/><ellipse class="bk" cx="1259.5" cy="543.5" rx="19.5" ry="30.5" transform="rotate(16 1259.5 543.5)"/><ellipse class="k w" cx="1274.6" cy="547" rx="16.8" ry="28.3" transform="rotate(16 1274.6 547)"/></g></defs>
<path class="k w" d="M853,529C851.7,529.2 847.5,528.8 845,530C842.5,531.2 839.6,533.2 838,536C836.4,538.8 835.7,543.3 835.5,547C835.3,550.7 835.9,555.2 837,558C838.1,560.8 841.2,563 842,564L905,585L915,560L875,545Z"/><path class="k" d="M840.5,538L902.5,558.5"/><path class="k" d="M838.5,543.5L900.5,564"/><path class="k" d="M838,549L900,569.5"/><path class="k" d="M838.5,554.5L900.5,575"/><path class="k" d="M840,560L902,580.5"/><path class="k w" d="M928,470L928,634 934.3,640 1032.2,600 1032.2,430 934.3,470Z"/><path class="k" d="M934.3,470L934.3,632"/><ellipse class="bk" cx="1037" cy="621" rx="12.5" ry="4.6"/><path class="h2 w" d="M1026.7,622.1L1026.7,631.1 1030,635.1 1040.2,636 1047.3,632.9 1047.3,623.9Z"/><path class="h2 w" d="M1047.3,623.9L1040.2,627 1030,626.1 1026.7,622.1 1033.8,619 1044,619.9Z"/><path class="t" d="M1030,626.1L1030,635.1"/><path class="t" d="M1040.2,627L1040.2,636"/><path class="h2 w" d="M1029,634A8,3.5 0 0 0 1045,634L1045,631L1029,631Z"/><path class="h2 w" d="M1031,637.5A6,2.6 0 0 0 1043,637.5L1043,635L1031,635Z"/><path class="k w" d="M928,600L928,634Q928.5,646 940.5,650L961.8,657.4L1061.6,615L1061.6,610.4L1034.4,601.5L934.3,600Z"/><path class="k w" d="M934.3,600L934.3,630Q934.5,640 943,643L962.6,650.8L1061.6,610.4L1034.4,601.5L1032.2,596L936,634Z"/><path class="k" d="M962.6,650.8L961.8,657.4"/><path class="k" d="M936,634.5L1031.5,595.5"/><path class="t2" d="M960.6,622.5L1031,595.2"/><path class="bk" d="M941,630.5L960.6,622.5L960.6,628.5Z"/><ellipse class="bk" cx="1036.6" cy="610.5" rx="13" ry="5.2"/><path class="k w" d="M1025.3,600.2L1025.3,607.7 1029.2,612.2 1040.5,613 1047.9,609.3 1047.9,601.8Z"/><path class="k w" d="M1047.9,601.8L1040.5,605.5 1029.2,604.7 1025.3,600.2 1032.7,596.5 1044,597.3Z"/><path class="t" d="M1029.2,604.7L1029.2,612.2"/><path class="t" d="M1040.5,605.5L1040.5,613"/><use href="#fl"/><use href="#br"/><path class="k" d="M1293.4,458L1293.4,476"/><ellipse class="k w" cx="960.6" cy="642.2" rx="8" ry="3.4"/><ellipse class="t" cx="960.6" cy="642.6" rx="5.2" ry="2.1"/><path d="M960.6,622.5L960.6,679M960.6,702.5L960.6,709.5M960.6,722L960.6,743M960.6,765.5L960.6,785" fill="none" stroke="#000" stroke-width="2"/><use href="#hs"/><use href="#kn"/>
<g transform="translate(-574.3,578.1) scale(0.803)"><path class="k w" d="M853,529C851.7,529.2 847.5,528.8 845,530C842.5,531.2 839.6,533.2 838,536C836.4,538.8 835.7,543.3 835.5,547C835.3,550.7 835.9,555.2 837,558C838.1,560.8 841.2,563 842,564L905,585L915,560L875,545Z"/><path class="k" d="M840.5,538L902.5,558.5"/><path class="k" d="M838.5,543.5L900.5,564"/><path class="k" d="M838,549L900,569.5"/><path class="k" d="M838.5,554.5L900.5,575"/><path class="k" d="M840,560L902,580.5"/><path class="k w" d="M928,470L928,634 934.3,640 1032.2,600 1032.2,430 934.3,470Z"/><path class="k" d="M934.3,470L934.3,632"/><ellipse class="bk" cx="1037" cy="621" rx="12.5" ry="4.6"/><path class="h2 w" d="M1026.7,622.1L1026.7,631.1 1030,635.1 1040.2,636 1047.3,632.9 1047.3,623.9Z"/><path class="h2 w" d="M1047.3,623.9L1040.2,627 1030,626.1 1026.7,622.1 1033.8,619 1044,619.9Z"/><path class="t" d="M1030,626.1L1030,635.1"/><path class="t" d="M1040.2,627L1040.2,636"/><path class="h2 w" d="M1029,634A8,3.5 0 0 0 1045,634L1045,631L1029,631Z"/><path class="h2 w" d="M1031,637.5A6,2.6 0 0 0 1043,637.5L1043,635L1031,635Z"/><ellipse class="bk" cx="961" cy="661" rx="12.5" ry="4.6"/><path class="h2 w" d="M950.7,662.1L950.7,671.1 954,675.1 964.2,676 971.3,672.9 971.3,663.9Z"/><path class="h2 w" d="M971.3,663.9L964.2,667 954,666.1 950.7,662.1 957.8,659 968,659.9Z"/><path class="t" d="M954,666.1L954,675.1"/><path class="t" d="M964.2,667L964.2,676"/><path class="h2 w" d="M953,674A8,3.5 0 0 0 969,674L969,671L953,671Z"/><path class="h2 w" d="M955,677.5A6,2.6 0 0 0 967,677.5L967,675L955,675Z"/><path class="k w" d="M928,600L928,634Q928.5,646 940.5,650L961.8,657.4L1061.6,615L1061.6,610.4L1034.4,601.5L934.3,600Z"/><path class="k w" d="M934.3,600L934.3,630Q934.5,640 943,643L962.6,650.8L1061.6,610.4L1034.4,601.5L1032.2,596L936,634Z"/><path class="k" d="M962.6,650.8L961.8,657.4"/><path class="k" d="M936,634.5L1031.5,595.5"/><path class="t2" d="M960.6,622.5L1031,595.2"/><path class="bk" d="M941,630.5L960.6,622.5L960.6,628.5Z"/><ellipse class="bk" cx="1036.6" cy="610.5" rx="13" ry="5.2"/><path class="k w" d="M1025.3,600.2L1025.3,607.7 1029.2,612.2 1040.5,613 1047.9,609.3 1047.9,601.8Z"/><path class="k w" d="M1047.9,601.8L1040.5,605.5 1029.2,604.7 1025.3,600.2 1032.7,596.5 1044,597.3Z"/><path class="t" d="M1029.2,604.7L1029.2,612.2"/><path class="t" d="M1040.5,605.5L1040.5,613"/><ellipse class="bk" cx="961" cy="647" rx="13" ry="5.2"/><path class="k w" d="M949.7,636.7L949.7,644.2 953.6,648.7 964.9,649.5 972.3,645.8 972.3,638.3Z"/><path class="k w" d="M972.3,638.3L964.9,642 953.6,641.2 949.7,636.7 957.1,633 968.4,633.8Z"/><path class="t" d="M953.6,641.2L953.6,648.7"/><path class="t" d="M964.9,642L964.9,649.5"/><use href="#fl"/><use href="#br"/><use href="#hs" transform="translate(0,-40)"/><use href="#kn"/></g>
<circle class="bal" cx="1504.5" cy="340.2" r="58.3"/><text class="bt" x="1490.5" y="347.8">23074</text><path class="ld" d="M1446.2,340.6L1425,340.7"/><path class="ar" d="M1408.5,340.8L1425,337.3L1425,344.1Z"/><circle class="bal" cx="1441" cy="447.7" r="24.2"/><text class="bt" x="1441" y="457" style="font-size:24.5px">G</text><path class="ld" d="M1417,448L1320.2,448"/><path class="ar" d="M1304.2,448L1320.2,444.6L1320.2,451.4Z"/><circle class="bal" cx="1455.6" cy="831.9" r="85.9"/><text class="bt" x="1443.8" y="839.4">25532_33408</text><path class="ld" d="M1377.7,793.8L1359.3,785.4"/><path class="ar" d="M1344.3,778.6L1360.7,782.3L1357.9,788.5Z"/><circle class="bal" cx="707.9" cy="526.2" r="71.3"/><text class="bt" x="707.5" y="533.8">VHKM10X30</text><path class="ld" d="M758.3,578.9L796.2,618.8"/><path class="ar" d="M807.6,630.8L793.8,621.2L798.7,616.5Z"/><circle class="bal" cx="709.4" cy="677.5" r="58.4"/><text class="bt" x="710" y="685.3">RDLMN10</text><path class="ld" d="M767.9,677.3L785.7,677.3"/><path class="ar" d="M802.2,677.3L785.7,680.7L785.7,673.9Z"/><circle class="bal" cx="1069.6" cy="715.3" r="58.3"/><text class="bt" x="1070" y="723.5">RDLMN10</text><path class="ld" d="M1011.3,715.3L991.3,715.3"/><path class="ar" d="M974.8,715.3L991.3,711.9L991.3,718.7Z"/><circle class="bal" cx="1067.3" cy="844.3" r="51.2"/><text class="bt" x="1068.5" y="852.3">RDLW10</text><path class="ld" d="M1027.8,810L984.2,770.4"/><path class="ar" d="M972,759.3L986.5,767.9L981.9,772.9Z"/><circle class="bal" cx="960.8" cy="940.2" r="71.6"/><text class="bt" x="964" y="948.6">ECRM10SUR</text><path class="ld" d="M960.8,868.6L960.8,836.3"/><path class="ar" d="M960.8,819.8L964.2,836.3L957.4,836.3Z"/><path d="M815,656.5L815,701.5" fill="none" stroke="#000" stroke-width="2"/><ellipse cx="815" cy="678.5" rx="12.4" ry="5.1" fill="#000" stroke="#000" stroke-width="2.2"/><ellipse cx="815" cy="676.3" rx="12.4" ry="4.9" fill="#fff" stroke="#000" stroke-width="2.2"/><ellipse cx="815" cy="676.5" rx="7.4" ry="2.9" fill="#000"/><path class="h2 w" d="M808.6,612L808.6,643Q815.3,648.5 822,643L822,612Z"/><path class="h2 w" d="M803,604L803,611.5 809.2,615.6 821.6,615.6 827.8,611.5 827.8,604Z"/><path class="h2 w" d="M827.8,604L821.6,608.1 809.2,608.1 803,604 809.2,599.9 821.6,599.9Z"/><path class="t" d="M809.2,608.1L809.2,615.6"/><path class="t" d="M821.6,608.1L821.6,615.6"/><path d="M822.6,698.3L921.2,643.6" fill="none" stroke="#000" stroke-width="1.8" stroke-dasharray="19.5 25.6"/><ellipse cx="960.6" cy="716.9" rx="13.4" ry="5.3" fill="#000" stroke="#000" stroke-width="2.2"/><ellipse cx="960.6" cy="714.7" rx="13.4" ry="5.1" fill="#fff" stroke="#000" stroke-width="2.2"/><ellipse cx="960.6" cy="714.9" rx="8.4" ry="3.1" fill="#000"/><ellipse cx="960.6" cy="759.4" rx="10.9" ry="4.6" fill="#fff" stroke="#000" stroke-width="1.8"/><path d="M949.7,755.8L949.7,759.4M971.5,755.8L971.5,759.4" stroke="#000" stroke-width="1.8"/><ellipse cx="960.6" cy="755.8" rx="10.9" ry="4.6" fill="#fff" stroke="#000" stroke-width="1.8"/><ellipse cx="960.6" cy="755.8" rx="6.6" ry="2.5" fill="#fff" stroke="#000" stroke-width="1.5"/><path class="k w" d="M949,800L949,808Q951,813.5 960.6,813.8Q970.5,813.5 972.4,808L972.4,800Z"/><path class="k w" d="M949,798.9L949,806.9 953.4,810.8 965.1,811.4 972.4,808.1 972.4,800.1Z"/><path class="k w" d="M972.4,800.1L965.1,803.4 953.4,802.8 949,798.9 956.3,795.6 968,796.2Z"/><path class="t" d="M953.4,802.8L953.4,810.8"/><path class="t" d="M965.1,803.4L965.1,811.4"/><ellipse class="t" cx="960.7" cy="799.5" rx="6" ry="2.2"/>
<text class="nt" x="64" y="87.3" font-size="30.2" textLength="488.5" lengthAdjust="spacingAndGlyphs">PRECONISATIONS DE MONTAGE</text><text class="nt" x="64.5" y="114" font-size="21.6" textLength="103" lengthAdjust="spacingAndGlyphs">C : COLLE</text><text class="nt" x="64.5" y="138.4" font-size="21.6" textLength="129" lengthAdjust="spacingAndGlyphs">G : GRAISSE</text><text class="nt" x="65" y="164" font-size="21.6" textLength="115" lengthAdjust="spacingAndGlyphs">T : TEFLON</text><text class="nt" x="184.3" y="164" font-size="15.6" textLength="287.4" lengthAdjust="spacingAndGlyphs">REALISER 5 TOURS AUTOUR DU FILET</text><path class="tb" d="M1624.3,836.7L1918.9,836.7M1624.3,869.6L1918.9,869.6M1624.3,902.3L1918.9,902.3M1624.3,935.4L1918.9,935.4M1624.3,968.3L1918.9,968.3M1624.3,1001.4L1918.9,1001.4M1624.3,1034.3L1918.9,1034.3M1624.3,1067.2L1918.9,1067.2M1624.3,836.7L1624.3,1067.2M1778.1,836.7L1778.1,1067.2"/><text class="bt" x="1701.2" y="860.9">23074</text><text class="bt" x="1848.3" y="860.9">1</text><text class="bt" x="1701.2" y="893.7">25532_33408</text><text class="bt" x="1848.3" y="893.7">1</text><text class="bt" x="1701.2" y="926.5">ECRM10SUR</text><text class="bt" x="1848.3" y="926.5">4</text><text class="bt" x="1701.2" y="959.5">RDLMN10</text><text class="bt" x="1848.3" y="959.5">8</text><text class="bt" x="1701.2" y="992.5">RDLW10</text><text class="bt" x="1848.3" y="992.5">4</text><text class="bt" x="1701.2" y="1025.5">VHKM10X30</text><text class="bt" x="1848.3" y="1025.5">4</text><text class="bt" x="1701.2" y="1058.5">REPERE</text><text class="bt" x="1848.3" y="1058.5">QUANTITE</text><path class="tb" d="M976.6,1067.6L1918.9,1067.6M976.6,1092.6L1918.9,1092.6M976.6,1116.8L1918.9,1116.8M976.6,1141.1L1918.9,1141.1M976.6,1165.8L1918.9,1165.8M976.6,1199.8L1918.9,1199.8M976.6,1233.3L1918.9,1233.3M976.6,1323.2L1607.6,1323.2M976.6,1346.7L1607.6,1346.7M1607.6,1266.7L1918.9,1266.7M1607.6,1299.7L1918.9,1299.7M976.6,1067.6L976.6,1375.3M1047.4,1067.6L1047.4,1165.8M1117.7,1067.6L1117.7,1165.8M1151.1,1067.6L1151.1,1165.8M1183.5,1199.8L1183.5,1346.7M1324.6,1199.8L1324.6,1233.3M1324.6,1323.2L1324.6,1346.7M1466,1323.2L1466,1346.7M1607.6,1199.8L1607.6,1375.3"/><path d="M1009.5,1081.5L1014.5,1081.5M1079.8,1081.5L1084.8,1081.5M1153,1081.5L1156.5,1081.5" stroke="#333" stroke-width="1" fill="none"/><path d="M1009.5,1105.7L1014.5,1105.7M1079.8,1105.7L1084.8,1105.7M1153,1105.7L1156.5,1105.7" stroke="#333" stroke-width="1" fill="none"/><path d="M1009.5,1130.2L1014.5,1130.2M1079.8,1130.2L1084.8,1130.2M1153,1130.2L1156.5,1130.2" stroke="#333" stroke-width="1" fill="none"/><text class="tf" x="1133.9" y="1087.3" font-size="19" text-anchor="middle" fill="#161616" stroke-width="0.3">C</text><text class="tf" x="1133.9" y="1111.2" font-size="19" text-anchor="middle" fill="#161616" stroke-width="0.3">B</text><text class="tf" x="1133.9" y="1135.8" font-size="19" text-anchor="middle" fill="#161616" stroke-width="0.3">A</text><text class="tf" x="988.2" y="1161.4" font-size="22" textLength="47" lengthAdjust="spacingAndGlyphs" fill="#161616" stroke-width="0.31">DATE</text><text class="tf" x="1056.5" y="1161.4" font-size="22" textLength="52" lengthAdjust="spacingAndGlyphs" fill="#161616" stroke-width="0.31">NOM</text><text class="tf" x="1121.8" y="1161.4" font-size="21" textLength="26.8" lengthAdjust="spacingAndGlyphs" fill="#161616" stroke-width="0.29">Rev</text><text class="tf" x="1455" y="1161.4" font-size="22" textLength="159.8" lengthAdjust="spacingAndGlyphs" fill="#161616" stroke-width="0.31">MODIFICATIONS</text><text class="tf" x="984.7" y="1190.2" font-size="25" textLength="118.8" lengthAdjust="spacingAndGlyphs" fill="#161616" stroke-width="0.35">Désignation :</text><text class="tf" x="982.3" y="1222.2" font-size="16" textLength="122.2" lengthAdjust="spacingAndGlyphs" fill="#161616" stroke-width="0.22">MASSE : 13,578 KG</text><text class="tf" x="1190.2" y="1222.2" font-size="17" textLength="107.4" lengthAdjust="spacingAndGlyphs" fill="#161616" stroke-width="0.24">Etat : Production</text><text class="tf" x="1325.3" y="1222.2" font-size="18" textLength="175.7" lengthAdjust="spacingAndGlyphs" fill="#161616" stroke-width="0.25">DERNIERE VERSION : -</text><text class="tf" x="1608.9" y="1222.2" font-size="18" textLength="171.7" lengthAdjust="spacingAndGlyphs" fill="#161616" stroke-width="0.25">MODIFIE LE : 31-Aug-21</text><text class="tf" x="1360.9" y="1249" font-size="16.6" textLength="70.3" lengthAdjust="spacingAndGlyphs" fill="#161616" stroke-width="0.23">REGELAV</text><text class="tf" x="1277.8" y="1266.8" font-size="16.6" textLength="234.1" lengthAdjust="spacingAndGlyphs" fill="#161616" stroke-width="0.23">16 RUE D'ATHENES - BP 43607</text><text class="tf" x="1304" y="1284.1" font-size="16.6" textLength="182.1" lengthAdjust="spacingAndGlyphs" fill="#161616" stroke-width="0.23">44336 NANTES CEDEX 3</text><text class="tf" x="1364.9" y="1301.9" font-size="16.6" textLength="61.3" lengthAdjust="spacingAndGlyphs" fill="#161616" stroke-width="0.23">FRANCE</text><text class="tf" x="1257" y="1319.7" font-size="16" textLength="276.1" lengthAdjust="spacingAndGlyphs" fill="#161616" stroke-width="0.22" xml:space="preserve">Tel:   02.40.49.54.12  Fax:  02.51.13.42.35</text><text class="tf" x="1653.9" y="1255.4" font-size="14.5" textLength="218.3" lengthAdjust="spacingAndGlyphs" fill="#161616" stroke-width="0.20">Tolérances générales : ISO 2768 - mK</text><text class="tf" x="1614.8" y="1289.6" font-size="19" textLength="229.7" lengthAdjust="spacingAndGlyphs" fill="#161616" stroke-width="0.27">Dessiné par : GLOTIN Frederic</text><text class="tf" x="1622.2" y="1351.9" font-size="40" textLength="172.8" lengthAdjust="spacingAndGlyphs" fill="#111" stroke-width="0.56">n° : 33408</text><text class="tf" x="982.3" y="1342" font-size="17" textLength="69.3" lengthAdjust="spacingAndGlyphs" fill="#161616" stroke-width="0.24">Matière : -</text><text class="tf" x="1190.2" y="1342" font-size="17" textLength="126.2" lengthAdjust="spacingAndGlyphs" fill="#161616" stroke-width="0.24">Date : 09-Nov-20</text><text class="tf" x="1331.2" y="1342" font-size="17" textLength="100" lengthAdjust="spacingAndGlyphs" fill="#161616" stroke-width="0.24">Echelle : 0,250</text><text class="tf" x="1467.3" y="1342" font-size="17" textLength="60.4" lengthAdjust="spacingAndGlyphs" fill="#161616" stroke-width="0.24">Folio : 1/1</text><text class="tf" x="1032.8" y="1359.3" font-size="13.5" textLength="519.6" lengthAdjust="spacingAndGlyphs" fill="#161616" stroke-width="0.19">Ce plan est notre propriété et ne peut être reproduit ou communiqué sans notre autorisation</text><text class="tf" x="1025.3" y="1371.6" font-size="13.5" textLength="534.6" lengthAdjust="spacingAndGlyphs" fill="#161616" stroke-width="0.19">This drawing is our property and can not be duplicated or transmitted without our autorization</text><text x="978" y="1285.3" font-family="Liberation Sans,sans-serif" font-weight="bold" font-size="40.6" fill="#4a4a4a" textLength="198" lengthAdjust="spacingAndGlyphs">REGELAV</text><rect x="979.3" y="1290.7" width="53.8" height="11.3" fill="#4a4a4a"/><text x="981" y="1298.6" font-family="Liberation Sans,sans-serif" font-weight="bold" font-size="5.9" fill="#fff" textLength="50.4" lengthAdjust="spacingAndGlyphs">CONSTRUCTEUR</text><text x="1036.8" y="1298.6" font-family="Liberation Sans,sans-serif" font-weight="bold" font-size="5.7" fill="#4a4a4a" textLength="139.6" lengthAdjust="spacingAndGlyphs">NETTOYEURS ET SOLUTIONS HAUTE PRESSION</text><text x="1526" y="1290.5" font-family="Liberation Sans,sans-serif" font-weight="bold" font-size="46" fill="#3a3a3a" textLength="31.5" lengthAdjust="spacingAndGlyphs">R</text><path d="M1557,1288Q1560,1296 1569,1300.5L1580,1295Q1589,1284 1600,1266.5L1586,1276.5L1584,1271.5L1577,1278L1572.5,1271L1569,1264L1573.5,1254L1566,1257" fill="none" stroke="#333" stroke-width="1.7" stroke-linejoin="round"/><path d="M1557.5,1243.5Q1563,1251 1562.5,1256Q1561,1262 1556,1261.5Q1550.5,1260 1552,1253.5Q1553.5,1248 1557.5,1243.5Z" fill="#888" stroke="#555" stroke-width="0.6"/></svg></body></html>
